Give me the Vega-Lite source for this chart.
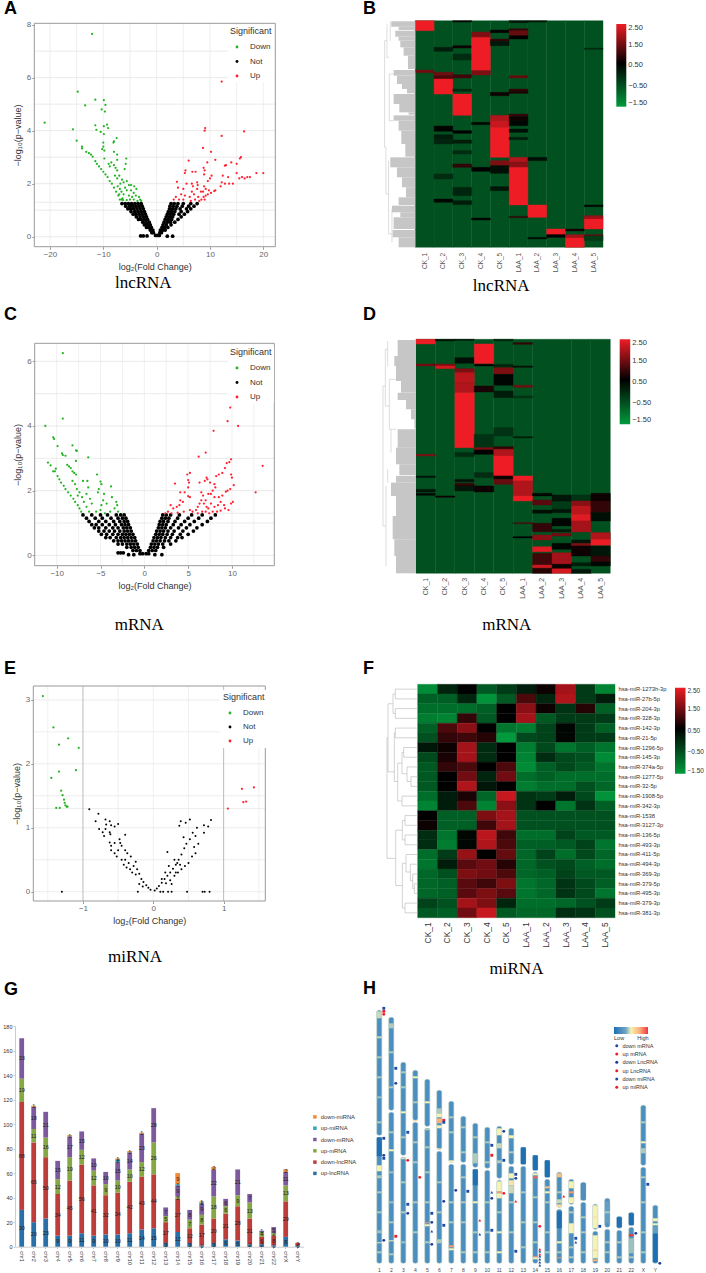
{
"$schema":"https://vega.github.io/schema/vega-lite/v6.json",
"padding":0,"background":"white",
"config":{"view":{"stroke":null},"font":"Liberation Sans","title":{"fontSize":18,"fontWeight":"bold","anchor":"start","frame":"group","color":"#000"},
 "axis":{"labelColor":"#666","tickColor":"#999","titleFontWeight":"normal","titleColor":"#333","grid":false,"domain":false}},
"columns":2,"spacing":0,"align":"each","bounds":"flush",
"concat":[
{"width":353,"height":320,"title":{"text":"A","offset":-18,"dx":4},
 "encoding":{
  "x":{"field":"x","type":"quantitative","scale":{"domain":[-22.94,22.25],"range":[34.3,275.3],"nice":false,"zero":false},"axis":{"values":[-20,-10,0,10,20],"title":"log₂(Fold Change)","offset":-73.3,"labelFontSize":8,"tickSize":2.5,"labelPadding":1,"titleFontSize":9,"titlePadding":4}},
  "y":{"field":"y","type":"quantitative","scale":{"domain":[-0.377,8.05],"range":[246.7,23.3],"nice":false,"zero":false},"axis":{"values":[0,2,4,6,8],"title":"−log₁₀(p−value)","offset":-34.3,"labelFontSize":8,"tickSize":2.5,"labelPadding":1,"titleFontSize":9,"titlePadding":4}}},
 "layer":[
  {"data":{"values":[{"x":-20,"y":-0.377,"e":8.05},{"x":-15,"y":-0.377,"e":8.05},{"x":-10,"y":-0.377,"e":8.05},{"x":-5,"y":-0.377,"e":8.05},{"x":0,"y":-0.377,"e":8.05},{"x":5,"y":-0.377,"e":8.05},{"x":10,"y":-0.377,"e":8.05},{"x":15,"y":-0.377,"e":8.05},{"x":20,"y":-0.377,"e":8.05}]},"mark":{"type":"rule","stroke":"#ececec","strokeWidth":0.8},"encoding":{"y2":{"field":"e"}}},
  {"data":{"values":[{"x":-22.94,"y":0,"e":22.25},{"x":-22.94,"y":1,"e":22.25},{"x":-22.94,"y":1.3,"e":22.25},{"x":-22.94,"y":2,"e":22.25},{"x":-22.94,"y":3,"e":22.25},{"x":-22.94,"y":4,"e":22.25},{"x":-22.94,"y":5,"e":22.25},{"x":-22.94,"y":6,"e":22.25},{"x":-22.94,"y":7,"e":22.25}]},"mark":{"type":"rule","stroke":"#e4e4e4","strokeWidth":0.8},"encoding":{"x2":{"field":"e"}}},
  {"data":{"values":[{"x":-0.2,"y":0.05},{"x":-0.6,"y":0.15},{"x":-0.9,"y":0.15},{"x":-0.7,"y":0.25},{"x":-1.2,"y":0.25},{"x":-1,"y":0.35},{"x":-1.5,"y":0.35},{"x":-1.9,"y":0.35},{"x":-1.2,"y":0.45},{"x":-1.7,"y":0.45},{"x":-2.3,"y":0.45},{"x":-1.4,"y":0.55},{"x":-2,"y":0.55},{"x":-2.6,"y":0.55},{"x":-1.7,"y":0.65},{"x":-2.3,"y":0.65},{"x":-2.9,"y":0.65},{"x":-3.4,"y":0.65},{"x":-1.9,"y":0.75},{"x":-2.5,"y":0.75},{"x":-3.1,"y":0.75},{"x":-3.8,"y":0.75},{"x":-2.1,"y":0.85},{"x":-2.7,"y":0.85},{"x":-3.3,"y":0.85},{"x":-3.9,"y":0.85},{"x":-4.4,"y":0.85},{"x":-2.3,"y":0.95},{"x":-2.9,"y":0.95},{"x":-3.5,"y":0.95},{"x":-4.1,"y":0.95},{"x":-4.8,"y":0.95},{"x":-2.5,"y":1.05},{"x":-3.1,"y":1.05},{"x":-3.7,"y":1.05},{"x":-4.3,"y":1.05},{"x":-4.9,"y":1.05},{"x":-5.4,"y":1.05},{"x":-2.7,"y":1.15},{"x":-3.3,"y":1.15},{"x":-3.9,"y":1.15},{"x":-4.5,"y":1.15},{"x":-5.1,"y":1.15},{"x":-5.8,"y":1.15},{"x":-2.9,"y":1.25},{"x":-3.5,"y":1.25},{"x":-4.1,"y":1.25},{"x":-4.7,"y":1.25},{"x":-5.3,"y":1.25},{"x":-5.9,"y":1.25},{"x":-6.5,"y":1.25},{"x":-3,"y":0.03},{"x":-2.5,"y":0.03},{"x":-1.8,"y":0.03},{"x":0.2,"y":0.05},{"x":0.5,"y":0.05},{"x":0.6,"y":0.15},{"x":0.9,"y":0.15},{"x":0.7,"y":0.25},{"x":1.2,"y":0.25},{"x":1.6,"y":0.25},{"x":1,"y":0.35},{"x":1.5,"y":0.35},{"x":2.1,"y":0.35},{"x":1.2,"y":0.45},{"x":1.8,"y":0.45},{"x":2.7,"y":0.45},{"x":1.4,"y":0.55},{"x":2,"y":0.55},{"x":2.6,"y":0.55},{"x":3.4,"y":0.55},{"x":1.6,"y":0.65},{"x":2.2,"y":0.65},{"x":2.8,"y":0.65},{"x":4,"y":0.65},{"x":1.8,"y":0.75},{"x":2.4,"y":0.75},{"x":3,"y":0.75},{"x":4.6,"y":0.75},{"x":2,"y":0.85},{"x":2.6,"y":0.85},{"x":3.2,"y":0.85},{"x":4.2,"y":0.85},{"x":5.2,"y":0.85},{"x":2.2,"y":0.95},{"x":2.8,"y":0.95},{"x":3.4,"y":0.95},{"x":4.6,"y":0.95},{"x":5.8,"y":0.95},{"x":2.4,"y":1.05},{"x":3,"y":1.05},{"x":3.6,"y":1.05},{"x":4.4,"y":1.05},{"x":5.6,"y":1.05},{"x":6.4,"y":1.05},{"x":2.5,"y":1.15},{"x":3.1,"y":1.15},{"x":3.8,"y":1.15},{"x":4.8,"y":1.15},{"x":6,"y":1.15},{"x":7,"y":1.15},{"x":2.7,"y":1.25},{"x":3.3,"y":1.25},{"x":4,"y":1.25},{"x":5,"y":1.25},{"x":6.4,"y":1.25},{"x":7.6,"y":1.25},{"x":2,"y":0.02},{"x":3,"y":0.02}]},"mark":{"type":"circle","color":"#000","size":14,"opacity":1}},
  {"data":{"values":[{"x":-12.1,"y":7.65,"s":"Down"},{"x":-14.8,"y":5.47,"s":"Down"},{"x":-11.5,"y":5.17,"s":"Down"},{"x":-9.9,"y":5.15,"s":"Down"},{"x":-13.4,"y":4.95,"s":"Down"},{"x":-9.6,"y":4.97,"s":"Down"},{"x":-10.3,"y":4.8,"s":"Down"},{"x":-9.7,"y":4.72,"s":"Down"},{"x":-21,"y":4.3,"s":"Down"},{"x":-11.5,"y":4.2,"s":"Down"},{"x":-9.9,"y":4.17,"s":"Down"},{"x":-9.3,"y":4.23,"s":"Down"},{"x":-9.1,"y":4.1,"s":"Down"},{"x":-11.3,"y":4.03,"s":"Down"},{"x":-15.7,"y":4.05,"s":"Down"},{"x":-10.5,"y":3.95,"s":"Down"},{"x":-9.9,"y":3.87,"s":"Down"},{"x":-15,"y":3.62,"s":"Down"},{"x":-8,"y":3.6,"s":"Down"},{"x":-8.1,"y":3.55,"s":"Down"},{"x":-10,"y":3.55,"s":"Down"},{"x":-10,"y":3.4,"s":"Down"},{"x":-7.5,"y":3.72,"s":"Down"},{"x":-14,"y":3.4,"s":"Down"},{"x":-14,"y":3.33,"s":"Down"},{"x":-10.2,"y":3.3,"s":"Down"},{"x":-9.8,"y":3.25,"s":"Down"},{"x":-13.2,"y":3.2,"s":"Down"},{"x":-12.7,"y":3.15,"s":"Down"},{"x":-12.3,"y":3.1,"s":"Down"},{"x":-12,"y":3.02,"s":"Down"},{"x":-8,"y":3.2,"s":"Down"},{"x":-7.4,"y":3.1,"s":"Down"},{"x":-5.7,"y":2.95,"s":"Down"},{"x":-7.4,"y":2.9,"s":"Down"},{"x":-11.5,"y":2.85,"s":"Down"},{"x":-9.8,"y":2.95,"s":"Down"},{"x":-8.5,"y":2.8,"s":"Down"},{"x":-11.2,"y":2.75,"s":"Down"},{"x":-10.8,"y":2.65,"s":"Down"},{"x":-10.4,"y":2.55,"s":"Down"},{"x":-10,"y":2.45,"s":"Down"},{"x":-9.6,"y":2.35,"s":"Down"},{"x":-9.2,"y":2.25,"s":"Down"},{"x":-8.8,"y":2.1,"s":"Down"},{"x":-8.4,"y":2,"s":"Down"},{"x":-8,"y":1.85,"s":"Down"},{"x":-7.6,"y":1.7,"s":"Down"},{"x":-7.2,"y":1.55,"s":"Down"},{"x":-6.9,"y":1.4,"s":"Down"},{"x":-9,"y":2.75,"s":"Down"},{"x":-8.8,"y":2.65,"s":"Down"},{"x":-8,"y":2.7,"s":"Down"},{"x":-7.7,"y":2.6,"s":"Down"},{"x":-7.4,"y":2.5,"s":"Down"},{"x":-5.8,"y":2.75,"s":"Down"},{"x":-6,"y":2.55,"s":"Down"},{"x":-7.8,"y":2.3,"s":"Down"},{"x":-7.4,"y":2.2,"s":"Down"},{"x":-7,"y":2.3,"s":"Down"},{"x":-6.8,"y":2,"s":"Down"},{"x":-6.5,"y":2.15,"s":"Down"},{"x":-6.2,"y":2.05,"s":"Down"},{"x":-5.6,"y":2.1,"s":"Down"},{"x":-5.2,"y":1.95,"s":"Down"},{"x":-4.8,"y":1.95,"s":"Down"},{"x":-4.2,"y":1.9,"s":"Down"},{"x":-6.6,"y":1.7,"s":"Down"},{"x":-6.2,"y":1.6,"s":"Down"},{"x":-5.9,"y":1.85,"s":"Down"},{"x":-5.6,"y":1.75,"s":"Down"},{"x":-5.2,"y":1.55,"s":"Down"},{"x":-4.8,"y":1.75,"s":"Down"},{"x":-4.3,"y":1.65,"s":"Down"},{"x":-3.9,"y":1.55,"s":"Down"},{"x":-3.3,"y":1.5,"s":"Down"},{"x":-3.1,"y":1.4,"s":"Down"},{"x":-3.6,"y":1.35,"s":"Down"},{"x":-4.3,"y":1.4,"s":"Down"},{"x":-5,"y":1.4,"s":"Down"},{"x":-5.6,"y":1.38,"s":"Down"},{"x":-6.3,"y":1.38,"s":"Down"},{"x":-7,"y":1.6,"s":"Down"},{"x":-6.6,"y":1.4,"s":"Down"},{"x":-7.3,"y":1.9,"s":"Down"},{"x":-6.9,"y":1.8,"s":"Down"},{"x":-6.4,"y":1.45,"s":"Down"},{"x":-2.9,"y":1.35,"s":"Down"},{"x":-3.8,"y":1.8,"s":"Down"},{"x":-4.6,"y":1.5,"s":"Down"},{"x":12.2,"y":5.85,"s":"Up"},{"x":9.1,"y":4.1,"s":"Up"},{"x":9,"y":4,"s":"Up"},{"x":16.4,"y":3.97,"s":"Up"},{"x":12.2,"y":3.8,"s":"Up"},{"x":8.7,"y":3.35,"s":"Up"},{"x":10.2,"y":3.2,"s":"Up"},{"x":6,"y":2.87,"s":"Up"},{"x":11,"y":2.9,"s":"Up"},{"x":9.5,"y":2.8,"s":"Up"},{"x":13,"y":2.7,"s":"Up"},{"x":12.8,"y":2.68,"s":"Up"},{"x":14,"y":2.8,"s":"Up"},{"x":15,"y":2.75,"s":"Up"},{"x":15.8,"y":3,"s":"Up"},{"x":15.6,"y":2.95,"s":"Up"},{"x":5.4,"y":2.5,"s":"Up"},{"x":5.3,"y":2.4,"s":"Up"},{"x":6.7,"y":2.45,"s":"Up"},{"x":7.3,"y":2.45,"s":"Up"},{"x":8.8,"y":2.6,"s":"Up"},{"x":9,"y":2.5,"s":"Up"},{"x":8.9,"y":2.35,"s":"Up"},{"x":10.3,"y":2.3,"s":"Up"},{"x":10,"y":2.2,"s":"Up"},{"x":12.4,"y":2.3,"s":"Up"},{"x":13.4,"y":2.25,"s":"Up"},{"x":15,"y":2.4,"s":"Up"},{"x":15.5,"y":2.2,"s":"Up"},{"x":16,"y":2.25,"s":"Up"},{"x":16.5,"y":2.2,"s":"Up"},{"x":17,"y":2.25,"s":"Up"},{"x":17.5,"y":2.25,"s":"Up"},{"x":18.7,"y":2.4,"s":"Up"},{"x":20,"y":2.4,"s":"Up"},{"x":12.8,"y":2,"s":"Up"},{"x":13.6,"y":2,"s":"Up"},{"x":14.3,"y":2,"s":"Up"},{"x":12.2,"y":2.05,"s":"Up"},{"x":12,"y":1.9,"s":"Up"},{"x":3.8,"y":2.07,"s":"Up"},{"x":5.6,"y":2,"s":"Up"},{"x":6.6,"y":2,"s":"Up"},{"x":7.6,"y":2.05,"s":"Up"},{"x":7.7,"y":1.95,"s":"Up"},{"x":4,"y":1.85,"s":"Up"},{"x":4.6,"y":1.6,"s":"Up"},{"x":5,"y":1.8,"s":"Up"},{"x":6.8,"y":1.9,"s":"Up"},{"x":7.6,"y":1.8,"s":"Up"},{"x":8.9,"y":1.9,"s":"Up"},{"x":9.2,"y":1.8,"s":"Up"},{"x":9.6,"y":2.1,"s":"Up"},{"x":8.3,"y":1.7,"s":"Up"},{"x":8.7,"y":1.7,"s":"Up"},{"x":7,"y":1.6,"s":"Up"},{"x":6.2,"y":1.5,"s":"Up"},{"x":5.3,"y":1.55,"s":"Up"},{"x":3.6,"y":1.5,"s":"Up"},{"x":3.2,"y":1.4,"s":"Up"},{"x":4.2,"y":1.4,"s":"Up"},{"x":5,"y":1.4,"s":"Up"},{"x":6.4,"y":1.35,"s":"Up"},{"x":7.2,"y":1.4,"s":"Up"},{"x":8,"y":1.35,"s":"Up"},{"x":8.4,"y":1.4,"s":"Up"},{"x":8.8,"y":1.5,"s":"Up"},{"x":9.2,"y":1.55,"s":"Up"},{"x":9.6,"y":1.6,"s":"Up"},{"x":10.2,"y":1.65,"s":"Up"},{"x":10.8,"y":1.72,"s":"Up"},{"x":9,"y":1.4,"s":"Up"},{"x":7.8,"y":1.5,"s":"Up"},{"x":6.6,"y":1.7,"s":"Up"},{"x":11,"y":1.75,"s":"Up"},{"x":9.8,"y":1.75,"s":"Up"}]},"mark":{"type":"circle","size":5,"opacity":1},"encoding":{"color":{"field":"s","type":"nominal","scale":{"domain":["Down","Not","Up"],"range":["#22b422","#000000","#ff2030"]},"legend":{"orient":"none","legendX":228,"legendY":25,"title":"Significant","padding":2,"fillColor":"white","titleFontSize":9,"titleFontWeight":"normal","titleColor":"#333","labelFontSize":8,"labelColor":"#333","symbolSize":8,"symbolOffset":3,"labelOffset":9,"rowPadding":6.5,"titlePadding":7}}}},
  {"data":{"values":[{"x":-22.94,"y":-0.377,"e":22.25,"f":8.05}]},"mark":{"type":"rect","fill":null,"stroke":"#999","strokeWidth":1},"encoding":{"x2":{"field":"e"},"y2":{"field":"f"}}},
  {"data":{"values":[{"x":-2.5,"y":-1.76,"label":"lncRNA"}]},"mark":{"type":"text","font":"Liberation Serif","fontSize":17,"color":"#000"},"encoding":{"text":{"field":"label"}}}
 ]},
{"width":353,"height":320,"title":{"text":"B","offset":-18,"dx":10},
 "resolve":{"scale":{"x":"independent"}},
 "layer":[
  {"data":{"values":[{"s":"CK_1","t":0,"b":680,"v":-0.5},{"s":"CK_2","t":0,"b":680,"v":-0.5},{"s":"CK_3","t":0,"b":680,"v":-0.5},{"s":"CK_4","t":0,"b":680,"v":-0.5},{"s":"CK_5","t":0,"b":680,"v":-0.5},{"s":"LAA_1","t":0,"b":680,"v":-0.5},{"s":"LAA_2","t":0,"b":680,"v":-0.5},{"s":"LAA_3","t":0,"b":680,"v":-0.5},{"s":"LAA_4","t":0,"b":680,"v":-0.5},{"s":"LAA_5","t":0,"b":680,"v":-0.5},
{"s":"CK_1","t":0,"b":30,"v":2.5},{"s":"CK_1","t":148,"b":156,"v":1.5},
{"s":"CK_2","t":80,"b":92,"v":0.2},{"s":"CK_2","t":155,"b":165,"v":1.5},{"s":"CK_2","t":165,"b":175,"v":1.2},{"s":"CK_2","t":175,"b":220,"v":2.5},{"s":"CK_2","t":316,"b":332,"v":0.55},{"s":"CK_2","t":342,"b":355,"v":0.2},{"s":"CK_2","t":355,"b":370,"v":0.1},{"s":"CK_2","t":460,"b":475,"v":0},{"s":"CK_2","t":535,"b":545,"v":0.5},
{"s":"CK_3","t":0,"b":4,"v":0.5},{"s":"CK_3","t":75,"b":82,"v":0.7},{"s":"CK_3","t":100,"b":118,"v":0},{"s":"CK_3","t":162,"b":172,"v":1.1},{"s":"CK_3","t":205,"b":212,"v":0},{"s":"CK_3","t":220,"b":284,"v":2.5},{"s":"CK_3","t":330,"b":338,"v":0.6},{"s":"CK_3","t":358,"b":368,"v":0.2},{"s":"CK_3","t":390,"b":400,"v":0},{"s":"CK_3","t":430,"b":440,"v":1},{"s":"CK_3","t":500,"b":525,"v":0.1},{"s":"CK_3","t":540,"b":552,"v":0.2},
{"s":"CK_4","t":34,"b":50,"v":1.6},{"s":"CK_4","t":50,"b":150,"v":2.5},{"s":"CK_4","t":150,"b":163,"v":1.6},{"s":"CK_4","t":305,"b":312,"v":0.5},{"s":"CK_4","t":440,"b":452,"v":0.6},{"s":"CK_4","t":592,"b":598,"v":0.5},
{"s":"CK_5","t":28,"b":36,"v":0.6},{"s":"CK_5","t":55,"b":62,"v":1},{"s":"CK_5","t":62,"b":75,"v":0.3},{"s":"CK_5","t":215,"b":225,"v":0.7},{"s":"CK_5","t":284,"b":300,"v":2},{"s":"CK_5","t":300,"b":320,"v":2.2},{"s":"CK_5","t":320,"b":410,"v":2.5},{"s":"CK_5","t":420,"b":435,"v":1.6},{"s":"CK_5","t":435,"b":458,"v":0.4},{"s":"CK_5","t":498,"b":510,"v":0.3},
{"s":"LAA_1","t":0,"b":6,"v":0.3},{"s":"LAA_1","t":24,"b":30,"v":1},{"s":"LAA_1","t":30,"b":45,"v":1.4},{"s":"LAA_1","t":45,"b":55,"v":0.6},{"s":"LAA_1","t":165,"b":172,"v":1.4},{"s":"LAA_1","t":205,"b":212,"v":1},{"s":"LAA_1","t":212,"b":218,"v":0.8},{"s":"LAA_1","t":280,"b":288,"v":1},{"s":"LAA_1","t":288,"b":300,"v":0.7},{"s":"LAA_1","t":300,"b":315,"v":0.5},{"s":"LAA_1","t":325,"b":335,"v":0.4},{"s":"LAA_1","t":350,"b":357,"v":0.2},{"s":"LAA_1","t":410,"b":425,"v":2},{"s":"LAA_1","t":425,"b":440,"v":1.7},{"s":"LAA_1","t":440,"b":553,"v":2.5},{"s":"LAA_1","t":587,"b":591,"v":1},
{"s":"LAA_2","t":0,"b":4,"v":0.3},{"s":"LAA_2","t":410,"b":420,"v":0.4},{"s":"LAA_2","t":553,"b":590,"v":2.5},{"s":"LAA_2","t":650,"b":655,"v":0.4},
{"s":"LAA_3","t":625,"b":642,"v":2.5},{"s":"LAA_3","t":642,"b":650,"v":0.6},
{"s":"LAA_4","t":625,"b":631,"v":0.7},{"s":"LAA_4","t":642,"b":652,"v":1.9},{"s":"LAA_4","t":652,"b":680,"v":2.5},
{"s":"LAA_5","t":82,"b":86,"v":0},{"s":"LAA_5","t":553,"b":558,"v":0.5},{"s":"LAA_5","t":585,"b":595,"v":1.8},{"s":"LAA_5","t":595,"b":625,"v":2.5},{"s":"LAA_5","t":642,"b":646,"v":1.4},{"s":"LAA_5","t":646,"b":660,"v":-0.2}]},
   "mark":{"type":"rect","strokeWidth":0.4},
   "encoding":{
    "x":{"field":"s","type":"nominal","scale":{"domain":["CK_1","CK_2","CK_3","CK_4","CK_5","LAA_1","LAA_2","LAA_3","LAA_4","LAA_5"],"range":[62.3,250],"paddingInner":0,"paddingOuter":0},"axis":{"labelAngle":-90,"offset":-72.7,"ticks":false,"labelFontSize":6.5,"labelColor":"#555","labelPadding":5,"title":"lncRNA","titleFont":"Liberation Serif","titleFontSize":17,"titleColor":"#000","titleX":147.7,"titleY":30.4}},
    "y":{"field":"t","type":"quantitative","scale":{"domain":[0,680],"range":[20.7,247.3],"nice":false,"zero":false},"axis":null},
    "y2":{"field":"b"},
    "stroke":{"field":"v","type":"quantitative","scale":{"domain":[-1.5,0.6,2.5],"range":["#009a3c","#000000","#ee1c25"],"interpolate":"rgb"},"legend":null},
    "color":{"field":"v","type":"quantitative","scale":{"domain":[-1.5,0.6,2.5],"range":["#009a3c","#000000","#ee1c25"],"interpolate":"rgb"},"legend":{"orient":"none","legendX":263.3,"legendY":24,"title":null,"gradientLength":82.7,"gradientThickness":10,"values":[-1.5,-0.5,0.5,1.5,2.5],"format":".2f","labelFontSize":7.5,"labelColor":"#333"}}}},
  {"data":{"values":[{"d":0,"e":72,"t":2,"b":18},{"d":0,"e":50,"t":18,"b":28},{"d":0,"e":60,"t":30,"b":48},{"d":0,"e":50,"t":48,"b":60},{"d":0,"e":45,"t":60,"b":80},{"d":0,"e":35,"t":80,"b":105},{"d":0,"e":22,"t":105,"b":145},{"d":0,"e":65,"t":148,"b":165},{"d":0,"e":55,"t":165,"b":190},{"d":0,"e":40,"t":190,"b":205},{"d":0,"e":25,"t":205,"b":218},{"d":0,"e":65,"t":220,"b":250},{"d":0,"e":48,"t":250,"b":275},{"d":0,"e":20,"t":275,"b":282},{"d":0,"e":65,"t":284,"b":300},{"d":0,"e":50,"t":300,"b":330},{"d":0,"e":42,"t":330,"b":370},{"d":0,"e":30,"t":370,"b":408},{"d":0,"e":75,"t":410,"b":440},{"d":0,"e":55,"t":440,"b":470},{"d":0,"e":40,"t":470,"b":500},{"d":0,"e":28,"t":500,"b":530},{"d":0,"e":50,"t":530,"b":553},{"d":0,"e":70,"t":555,"b":575},{"d":0,"e":45,"t":575,"b":590},{"d":0,"e":65,"t":590,"b":625},{"d":0,"e":68,"t":628,"b":650},{"d":0,"e":50,"t":650,"b":680}]},"mark":{"type":"rect","fill":"#c6c6c6"},"encoding":{"x":{"field":"d","type":"quantitative","scale":{"domain":[0,92],"range":[62.3,31.6]},"axis":null},"x2":{"field":"e"},"y":{"field":"t","type":"quantitative"},"y2":{"field":"b"}}},
  {"data":{"values":[{"d":92,"e":92,"t":60,"b":380},{"d":85,"e":85,"t":10,"b":110},{"d":85,"e":92,"t":60,"b":60},{"d":80,"e":80,"t":420,"b":640},{"d":88,"e":88,"t":380,"b":520},{"d":92,"e":88,"t":380,"b":380},{"d":88,"e":80,"t":520,"b":520},{"d":78,"e":78,"t":160,"b":300},{"d":85,"e":78,"t":110,"b":110},{"d":75,"e":75,"t":2,"b":60},{"d":80,"e":70,"t":640,"b":640},{"d":70,"e":70,"t":565,"b":665},{"d":78,"e":65,"t":160,"b":160},{"d":78,"e":65,"t":300,"b":300}]},"mark":{"type":"rule","stroke":"#c6c6c6","strokeWidth":0.6},"encoding":{"x":{"field":"d","type":"quantitative","scale":{"domain":[0,92],"range":[62.3,31.6]},"axis":null},"x2":{"field":"e"},"y":{"field":"t","type":"quantitative"},"y2":{"field":"b"}}}
 ]},
{"width":353,"height":330,"title":{"text":"C","offset":-4,"dx":4},
 "encoding":{
  "x":{"field":"x","type":"quantitative","scale":{"domain":[-12.51,14.83],"range":[34.7,274.3],"nice":false,"zero":false},"axis":{"values":[-10,-5,0,5,10],"title":"log₂(Fold Change)","offset":-84.3,"labelFontSize":8,"tickSize":2.5,"labelPadding":1,"titleFontSize":9,"titlePadding":4}},
  "y":{"field":"y","type":"quantitative","scale":{"domain":[-0.32,6.557],"range":[245.7,23.3],"nice":false,"zero":false},"axis":{"values":[0,2,4,6],"title":"−log₁₀(p−value)","offset":-34.7,"labelFontSize":8,"tickSize":2.5,"labelPadding":1,"titleFontSize":9,"titlePadding":4}}},
 "layer":[
  {"data":{"values":[{"x":-10,"y":-0.32,"e":6.557},{"x":-7.5,"y":-0.32,"e":6.557},{"x":-5,"y":-0.32,"e":6.557},{"x":-2.5,"y":-0.32,"e":6.557},{"x":0,"y":-0.32,"e":6.557},{"x":2.5,"y":-0.32,"e":6.557},{"x":5,"y":-0.32,"e":6.557},{"x":7.5,"y":-0.32,"e":6.557},{"x":10,"y":-0.32,"e":6.557},{"x":12.5,"y":-0.32,"e":6.557}]},"mark":{"type":"rule","stroke":"#ececec","strokeWidth":0.8},"encoding":{"y2":{"field":"e"}}},
  {"data":{"values":[{"x":-12.51,"y":0,"e":14.83},{"x":-12.51,"y":1,"e":14.83},{"x":-12.51,"y":1.3,"e":14.83},{"x":-12.51,"y":2,"e":14.83},{"x":-12.51,"y":3,"e":14.83},{"x":-12.51,"y":4,"e":14.83},{"x":-12.51,"y":5,"e":14.83},{"x":-12.51,"y":6,"e":14.83}]},"mark":{"type":"rule","stroke":"#e4e4e4","strokeWidth":0.8},"encoding":{"x2":{"field":"e"}}},
  {"data":{"values":[{"x":-0.2,"y":0.05},{"x":-0.5,"y":0.05},{"x":-0.5,"y":0.15},{"x":-0.9,"y":0.15},{"x":-1.3,"y":0.15},{"x":-0.7,"y":0.25},{"x":-1.1,"y":0.25},{"x":-1.5,"y":0.25},{"x":-2,"y":0.25},{"x":-0.8,"y":0.35},{"x":-1.2,"y":0.35},{"x":-1.6,"y":0.35},{"x":-2,"y":0.35},{"x":-2.5,"y":0.35},{"x":-3,"y":0.35},{"x":-1,"y":0.45},{"x":-1.4,"y":0.45},{"x":-1.8,"y":0.45},{"x":-2.2,"y":0.45},{"x":-2.6,"y":0.45},{"x":-3,"y":0.45},{"x":-3.5,"y":0.45},{"x":-1.1,"y":0.55},{"x":-1.5,"y":0.55},{"x":-1.9,"y":0.55},{"x":-2.3,"y":0.55},{"x":-2.7,"y":0.55},{"x":-3.2,"y":0.55},{"x":-3.9,"y":0.55},{"x":-4.4,"y":0.55},{"x":-1.3,"y":0.65},{"x":-1.7,"y":0.65},{"x":-2.1,"y":0.65},{"x":-2.5,"y":0.65},{"x":-3,"y":0.65},{"x":-3.6,"y":0.65},{"x":-4.3,"y":0.65},{"x":-4.9,"y":0.65},{"x":-1.5,"y":0.75},{"x":-1.9,"y":0.75},{"x":-2.3,"y":0.75},{"x":-2.8,"y":0.75},{"x":-3.4,"y":0.75},{"x":-4,"y":0.75},{"x":-4.6,"y":0.75},{"x":-5.2,"y":0.75},{"x":-1.6,"y":0.85},{"x":-2,"y":0.85},{"x":-2.4,"y":0.85},{"x":-3,"y":0.85},{"x":-3.6,"y":0.85},{"x":-4.4,"y":0.85},{"x":-5.2,"y":0.85},{"x":-5.7,"y":0.85},{"x":-1.8,"y":0.95},{"x":-2.2,"y":0.95},{"x":-2.6,"y":0.95},{"x":-3.3,"y":0.95},{"x":-4,"y":0.95},{"x":-4.8,"y":0.95},{"x":-5.5,"y":0.95},{"x":-6,"y":0.95},{"x":-1.9,"y":1.05},{"x":-2.3,"y":1.05},{"x":-2.8,"y":1.05},{"x":-3.5,"y":1.05},{"x":-4.4,"y":1.05},{"x":-5.2,"y":1.05},{"x":-6.3,"y":1.05},{"x":-2.1,"y":1.15},{"x":-2.5,"y":1.15},{"x":-3,"y":1.15},{"x":-3.8,"y":1.15},{"x":-4.8,"y":1.15},{"x":-5.6,"y":1.15},{"x":-6.6,"y":1.15},{"x":-2.3,"y":1.25},{"x":-2.7,"y":1.25},{"x":-3.2,"y":1.25},{"x":-4.2,"y":1.25},{"x":-5,"y":1.25},{"x":-6,"y":1.25},{"x":-7,"y":1.25},{"x":-3,"y":0.08},{"x":-2.7,"y":0.08},{"x":-2.4,"y":0.08},{"x":-1.8,"y":0.02},{"x":-1.2,"y":0.02},{"x":1.2,"y":0.02},{"x":2,"y":0.02},{"x":0.2,"y":0.05},{"x":0.5,"y":0.05},{"x":0.5,"y":0.15},{"x":0.9,"y":0.15},{"x":1.3,"y":0.15},{"x":0.7,"y":0.25},{"x":1.1,"y":0.25},{"x":1.5,"y":0.25},{"x":2.2,"y":0.25},{"x":0.8,"y":0.35},{"x":1.2,"y":0.35},{"x":1.6,"y":0.35},{"x":2.1,"y":0.35},{"x":3,"y":0.35},{"x":1,"y":0.45},{"x":1.4,"y":0.45},{"x":1.8,"y":0.45},{"x":2.3,"y":0.45},{"x":2.8,"y":0.45},{"x":3.6,"y":0.45},{"x":1.1,"y":0.55},{"x":1.5,"y":0.55},{"x":1.9,"y":0.55},{"x":2.4,"y":0.55},{"x":3,"y":0.55},{"x":3.8,"y":0.55},{"x":4.3,"y":0.55},{"x":1.3,"y":0.65},{"x":1.7,"y":0.65},{"x":2.1,"y":0.65},{"x":2.6,"y":0.65},{"x":3.2,"y":0.65},{"x":4.1,"y":0.65},{"x":5,"y":0.65},{"x":1.4,"y":0.75},{"x":1.8,"y":0.75},{"x":2.2,"y":0.75},{"x":2.7,"y":0.75},{"x":3.4,"y":0.75},{"x":4.4,"y":0.75},{"x":5.6,"y":0.75},{"x":1.6,"y":0.85},{"x":2,"y":0.85},{"x":2.4,"y":0.85},{"x":3,"y":0.85},{"x":3.9,"y":0.85},{"x":4.8,"y":0.85},{"x":6,"y":0.85},{"x":1.7,"y":0.95},{"x":2.1,"y":0.95},{"x":2.5,"y":0.95},{"x":3.3,"y":0.95},{"x":4.2,"y":0.95},{"x":5.2,"y":0.95},{"x":6.6,"y":0.95},{"x":1.8,"y":1.05},{"x":2.2,"y":1.05},{"x":2.7,"y":1.05},{"x":3.5,"y":1.05},{"x":4.6,"y":1.05},{"x":5.7,"y":1.05},{"x":7.2,"y":1.05},{"x":2,"y":1.15},{"x":2.4,"y":1.15},{"x":2.8,"y":1.15},{"x":3.8,"y":1.15},{"x":5,"y":1.15},{"x":6.2,"y":1.15},{"x":7.6,"y":1.15},{"x":2.1,"y":1.25},{"x":2.5,"y":1.25},{"x":3,"y":1.25},{"x":4,"y":1.25},{"x":5.4,"y":1.25},{"x":6.6,"y":1.25},{"x":8.1,"y":1.25}]},"mark":{"type":"circle","color":"#000","size":14,"opacity":1}},
  {"data":{"values":[{"x":-9.3,"y":6.25,"s":"Down"},{"x":-9.3,"y":4.23,"s":"Down"},{"x":-11.3,"y":4,"s":"Down"},{"x":-10.4,"y":3.65,"s":"Down"},{"x":-10.3,"y":3.6,"s":"Down"},{"x":-9.9,"y":3.38,"s":"Down"},{"x":-8.2,"y":3.4,"s":"Down"},{"x":-7.8,"y":3.25,"s":"Down"},{"x":-7.7,"y":3.23,"s":"Down"},{"x":-9.4,"y":3.15,"s":"Down"},{"x":-9.3,"y":3.1,"s":"Down"},{"x":-9,"y":3.08,"s":"Down"},{"x":-6.4,"y":3.03,"s":"Down"},{"x":-7.8,"y":2.92,"s":"Down"},{"x":-11,"y":2.87,"s":"Down"},{"x":-10.7,"y":2.78,"s":"Down"},{"x":-10.4,"y":2.6,"s":"Down"},{"x":-10.2,"y":2.6,"s":"Down"},{"x":-10.1,"y":2.68,"s":"Down"},{"x":-8.8,"y":2.8,"s":"Down"},{"x":-8.6,"y":2.75,"s":"Down"},{"x":-8.4,"y":2.7,"s":"Down"},{"x":-8.2,"y":2.6,"s":"Down"},{"x":-8,"y":2.55,"s":"Down"},{"x":-7.8,"y":2.5,"s":"Down"},{"x":-5.4,"y":2.5,"s":"Down"},{"x":-9.9,"y":2.45,"s":"Down"},{"x":-9.7,"y":2.35,"s":"Down"},{"x":-9.5,"y":2.25,"s":"Down"},{"x":-9.2,"y":2.15,"s":"Down"},{"x":-9,"y":2.05,"s":"Down"},{"x":-8.7,"y":1.95,"s":"Down"},{"x":-8.4,"y":1.85,"s":"Down"},{"x":-8.1,"y":1.75,"s":"Down"},{"x":-7.9,"y":1.65,"s":"Down"},{"x":-7.6,"y":1.55,"s":"Down"},{"x":-7.4,"y":1.45,"s":"Down"},{"x":-7.2,"y":1.35,"s":"Down"},{"x":-8.2,"y":2.3,"s":"Down"},{"x":-7.9,"y":2.2,"s":"Down"},{"x":-7.7,"y":2.05,"s":"Down"},{"x":-7.4,"y":1.95,"s":"Down"},{"x":-7.1,"y":1.8,"s":"Down"},{"x":-6.9,"y":1.65,"s":"Down"},{"x":-6.6,"y":1.5,"s":"Down"},{"x":-6.3,"y":1.35,"s":"Down"},{"x":-7,"y":2.3,"s":"Down"},{"x":-6.5,"y":2.3,"s":"Down"},{"x":-6.4,"y":2.1,"s":"Down"},{"x":-6.6,"y":1.9,"s":"Down"},{"x":-6.2,"y":1.75,"s":"Down"},{"x":-6,"y":1.6,"s":"Down"},{"x":-5.5,"y":1.35,"s":"Down"},{"x":-5,"y":2.28,"s":"Down"},{"x":-4.9,"y":2.2,"s":"Down"},{"x":-5.2,"y":2.05,"s":"Down"},{"x":-5.3,"y":1.95,"s":"Down"},{"x":-4.7,"y":1.7,"s":"Down"},{"x":-4.9,"y":1.55,"s":"Down"},{"x":-5,"y":1.4,"s":"Down"},{"x":-4.5,"y":1.3,"s":"Down"},{"x":-4.6,"y":1.9,"s":"Down"},{"x":-3.8,"y":2.13,"s":"Down"},{"x":-3.7,"y":1.8,"s":"Down"},{"x":-3.2,"y":1.65,"s":"Down"},{"x":-3.1,"y":1.55,"s":"Down"},{"x":-3.4,"y":1.45,"s":"Down"},{"x":-3.9,"y":1.35,"s":"Down"},{"x":-3,"y":1.35,"s":"Down"},{"x":-4.3,"y":1.6,"s":"Down"},{"x":-7.6,"y":1.85,"s":"Down"},{"x":9.8,"y":4.57,"s":"Up"},{"x":9.5,"y":4.15,"s":"Up"},{"x":10.7,"y":4,"s":"Up"},{"x":7.9,"y":3.85,"s":"Up"},{"x":13.5,"y":2.77,"s":"Up"},{"x":7,"y":3.18,"s":"Up"},{"x":6.2,"y":3.05,"s":"Up"},{"x":9.9,"y":2.97,"s":"Up"},{"x":9.7,"y":2.88,"s":"Up"},{"x":9.4,"y":2.85,"s":"Up"},{"x":9.2,"y":2.7,"s":"Up"},{"x":10,"y":2.4,"s":"Up"},{"x":9.9,"y":2.5,"s":"Up"},{"x":8.5,"y":2.5,"s":"Up"},{"x":8.9,"y":2.55,"s":"Up"},{"x":8.2,"y":2.45,"s":"Up"},{"x":5.2,"y":2.55,"s":"Up"},{"x":4.9,"y":2.5,"s":"Up"},{"x":5,"y":2.33,"s":"Up"},{"x":5.1,"y":2.25,"s":"Up"},{"x":3.5,"y":2.22,"s":"Up"},{"x":5,"y":2.1,"s":"Up"},{"x":6.3,"y":2.25,"s":"Up"},{"x":7.1,"y":2.4,"s":"Up"},{"x":7.2,"y":2.35,"s":"Up"},{"x":7.5,"y":2.25,"s":"Up"},{"x":6.9,"y":2.3,"s":"Up"},{"x":8,"y":2.2,"s":"Up"},{"x":8.1,"y":2.1,"s":"Up"},{"x":10.2,"y":2.17,"s":"Up"},{"x":9.8,"y":2.05,"s":"Up"},{"x":12.7,"y":1.95,"s":"Up"},{"x":9.3,"y":1.97,"s":"Up"},{"x":9.5,"y":2,"s":"Up"},{"x":4.1,"y":1.95,"s":"Up"},{"x":4.6,"y":1.95,"s":"Up"},{"x":5,"y":1.83,"s":"Up"},{"x":5.2,"y":1.8,"s":"Up"},{"x":6.5,"y":1.95,"s":"Up"},{"x":6.7,"y":1.85,"s":"Up"},{"x":7.3,"y":1.9,"s":"Up"},{"x":7.6,"y":1.9,"s":"Up"},{"x":7.8,"y":2,"s":"Up"},{"x":8,"y":1.8,"s":"Up"},{"x":8.5,"y":1.8,"s":"Up"},{"x":8.9,"y":1.85,"s":"Up"},{"x":10.1,"y":1.65,"s":"Up"},{"x":9.9,"y":1.6,"s":"Up"},{"x":9.1,"y":1.55,"s":"Up"},{"x":8.7,"y":1.65,"s":"Up"},{"x":8.4,"y":1.55,"s":"Up"},{"x":8,"y":1.5,"s":"Up"},{"x":3,"y":1.55,"s":"Up"},{"x":3.3,"y":1.45,"s":"Up"},{"x":3.7,"y":1.5,"s":"Up"},{"x":4.1,"y":1.7,"s":"Up"},{"x":4.4,"y":1.65,"s":"Up"},{"x":4,"y":1.55,"s":"Up"},{"x":4.5,"y":1.35,"s":"Up"},{"x":5.5,"y":1.35,"s":"Up"},{"x":5.9,"y":1.4,"s":"Up"},{"x":6.1,"y":1.5,"s":"Up"},{"x":6.3,"y":1.6,"s":"Up"},{"x":6.5,"y":1.7,"s":"Up"},{"x":6.8,"y":1.6,"s":"Up"},{"x":7,"y":1.7,"s":"Up"},{"x":6.6,"y":1.35,"s":"Up"},{"x":7.1,"y":1.5,"s":"Up"},{"x":7.3,"y":1.45,"s":"Up"},{"x":7.6,"y":1.6,"s":"Up"},{"x":7.4,"y":1.3,"s":"Up"},{"x":9.6,"y":1.4,"s":"Up"},{"x":9.2,"y":1.45,"s":"Up"},{"x":8.7,"y":1.38,"s":"Up"},{"x":8.3,"y":1.35,"s":"Up"},{"x":2.4,"y":1.3,"s":"Up"},{"x":2.7,"y":1.35,"s":"Up"},{"x":3.1,"y":1.3,"s":"Up"},{"x":3.8,"y":1.32,"s":"Up"},{"x":5.2,"y":1.4,"s":"Up"},{"x":6.1,"y":1.3,"s":"Up"},{"x":7,"y":1.35,"s":"Up"},{"x":7.8,"y":1.35,"s":"Up"}]},"mark":{"type":"circle","size":5,"opacity":1},"encoding":{"color":{"field":"s","type":"nominal","scale":{"domain":["Down","Not","Up"],"range":["#22b422","#000000","#ff2030"]},"legend":{"orient":"none","legendX":228,"legendY":26,"title":"Significant","padding":2,"fillColor":"white","titleFontSize":9,"titleFontWeight":"normal","titleColor":"#333","labelFontSize":8,"labelColor":"#333","symbolSize":8,"symbolOffset":3,"labelOffset":9,"rowPadding":6.5,"titlePadding":7}}}},
  {"data":{"values":[{"x":-12.51,"y":-0.32,"e":14.83,"f":6.557}]},"mark":{"type":"rect","fill":null,"stroke":"#999","strokeWidth":1},"encoding":{"x2":{"field":"e"},"y2":{"field":"f"}}},
  {"data":{"values":[{"x":-0.57,"y":-2.155,"label":"mRNA"}]},"mark":{"type":"text","font":"Liberation Serif","fontSize":17,"color":"#000"},"encoding":{"text":{"field":"label"}}}
 ]},
{"width":353,"height":330,"title":{"text":"D","offset":-4,"dx":10},
 "resolve":{"scale":{"x":"independent"}},
 "layer":[
  {"data":{"values":[{"s":"CK_1","t":0,"b":702,"v":-0.5},{"s":"CK_2","t":0,"b":702,"v":-0.5},{"s":"CK_3","t":0,"b":702,"v":-0.5},{"s":"CK_4","t":0,"b":702,"v":-0.5},{"s":"CK_5","t":0,"b":702,"v":-0.5},{"s":"LAA_1","t":0,"b":702,"v":-0.5},{"s":"LAA_2","t":0,"b":702,"v":-0.5},{"s":"LAA_3","t":0,"b":702,"v":-0.5},{"s":"LAA_4","t":0,"b":702,"v":-0.5},{"s":"LAA_5","t":0,"b":702,"v":-0.5},
{"s":"CK_1","t":0,"b":14,"v":2.5},{"s":"CK_1","t":74,"b":80,"v":1.5},{"s":"CK_1","t":345,"b":350,"v":1.6},{"s":"CK_1","t":410,"b":415,"v":0.3},{"s":"CK_1","t":450,"b":458,"v":0.3},{"s":"CK_1","t":462,"b":468,"v":0.5},
{"s":"CK_2","t":0,"b":5,"v":0.4},{"s":"CK_2","t":74,"b":80,"v":1.6},{"s":"CK_2","t":80,"b":88,"v":2.3},{"s":"CK_2","t":470,"b":474,"v":0.7},
{"s":"CK_3","t":0,"b":3,"v":0.4},{"s":"CK_3","t":55,"b":72,"v":0.4},{"s":"CK_3","t":88,"b":100,"v":1.6},{"s":"CK_3","t":100,"b":130,"v":2.1},{"s":"CK_3","t":130,"b":160,"v":2},{"s":"CK_3","t":160,"b":325,"v":2.5},{"s":"CK_3","t":340,"b":352,"v":0},{"s":"CK_3","t":420,"b":428,"v":0.3},{"s":"CK_3","t":432,"b":440,"v":1},{"s":"CK_3","t":440,"b":455,"v":0.3},
{"s":"CK_4","t":14,"b":73,"v":2.5},{"s":"CK_4","t":75,"b":80,"v":0.6},{"s":"CK_4","t":140,"b":158,"v":0.8},{"s":"CK_4","t":285,"b":325,"v":-0.1},{"s":"CK_4","t":325,"b":332,"v":1.6},{"s":"CK_4","t":332,"b":345,"v":0.6},{"s":"CK_4","t":400,"b":415,"v":0},{"s":"CK_4","t":440,"b":458,"v":0.7},
{"s":"CK_5","t":0,"b":5,"v":0.1},{"s":"CK_5","t":75,"b":85,"v":0.1},{"s":"CK_5","t":85,"b":105,"v":1.6},{"s":"CK_5","t":105,"b":138,"v":0.5},{"s":"CK_5","t":155,"b":175,"v":0.2},{"s":"CK_5","t":265,"b":290,"v":-0.1},{"s":"CK_5","t":322,"b":330,"v":1},{"s":"CK_5","t":330,"b":350,"v":2},{"s":"CK_5","t":350,"b":410,"v":2.5},{"s":"CK_5","t":410,"b":420,"v":0.7},{"s":"CK_5","t":420,"b":435,"v":1.4},
{"s":"LAA_1","t":10,"b":15,"v":1},{"s":"LAA_1","t":80,"b":84,"v":0.4},{"s":"LAA_1","t":138,"b":144,"v":1.5},{"s":"LAA_1","t":170,"b":176,"v":-0.1},{"s":"LAA_1","t":292,"b":296,"v":0.2},{"s":"LAA_1","t":410,"b":425,"v":2.5},{"s":"LAA_1","t":425,"b":470,"v":2},{"s":"LAA_1","t":470,"b":485,"v":2.5},{"s":"LAA_1","t":550,"b":553,"v":1.2},{"s":"LAA_1","t":592,"b":596,"v":0.6},
{"s":"LAA_2","t":462,"b":470,"v":0.5},{"s":"LAA_2","t":482,"b":497,"v":1.3},{"s":"LAA_2","t":512,"b":522,"v":0.4},{"s":"LAA_2","t":552,"b":577,"v":1},{"s":"LAA_2","t":587,"b":602,"v":1.7},{"s":"LAA_2","t":622,"b":637,"v":2.4},{"s":"LAA_2","t":642,"b":677,"v":1.1},{"s":"LAA_2","t":677,"b":687,"v":2.2},{"s":"LAA_2","t":687,"b":702,"v":0.9},
{"s":"LAA_3","t":467,"b":487,"v":0.3},{"s":"LAA_3","t":487,"b":510,"v":-0.2},{"s":"LAA_3","t":510,"b":520,"v":0.3},{"s":"LAA_3","t":537,"b":560,"v":0.5},{"s":"LAA_3","t":570,"b":578,"v":0.2},{"s":"LAA_3","t":582,"b":590,"v":1.5},{"s":"LAA_3","t":612,"b":630,"v":0.5},{"s":"LAA_3","t":640,"b":675,"v":1.9},{"s":"LAA_3","t":675,"b":690,"v":0.7},{"s":"LAA_3","t":688,"b":702,"v":2.3},
{"s":"LAA_4","t":467,"b":485,"v":-0.1},{"s":"LAA_4","t":485,"b":500,"v":1.7},{"s":"LAA_4","t":500,"b":525,"v":2.1},{"s":"LAA_4","t":525,"b":545,"v":2.4},{"s":"LAA_4","t":545,"b":578,"v":1.9},{"s":"LAA_4","t":602,"b":612,"v":0.3},{"s":"LAA_4","t":612,"b":620,"v":1.6},{"s":"LAA_4","t":620,"b":650,"v":0.7},{"s":"LAA_4","t":670,"b":680,"v":0.2},{"s":"LAA_4","t":690,"b":702,"v":0.3},
{"s":"LAA_5","t":462,"b":485,"v":0.7},{"s":"LAA_5","t":485,"b":520,"v":1},{"s":"LAA_5","t":520,"b":545,"v":0.4},{"s":"LAA_5","t":580,"b":600,"v":2},{"s":"LAA_5","t":600,"b":618,"v":2.5},{"s":"LAA_5","t":620,"b":650,"v":0.3},{"s":"LAA_5","t":650,"b":668,"v":1},{"s":"LAA_5","t":668,"b":680,"v":0.5}]},
   "mark":{"type":"rect","strokeWidth":0.4},
   "encoding":{
    "x":{"field":"s","type":"nominal","scale":{"domain":["CK_1","CK_2","CK_3","CK_4","CK_5","LAA_1","LAA_2","LAA_3","LAA_4","LAA_5"],"range":[63,257.3],"paddingInner":0,"paddingOuter":0},"axis":{"labelAngle":-90,"offset":-76.7,"ticks":false,"labelFontSize":7,"labelColor":"#555","labelPadding":4,"title":"mRNA","titleFont":"Liberation Serif","titleFontSize":17,"titleColor":"#000","titleX":153.3,"titleY":42.7}},
    "y":{"field":"t","type":"quantitative","scale":{"domain":[0,702],"range":[19.3,253.3],"nice":false,"zero":false},"axis":null},
    "y2":{"field":"b"},
    "stroke":{"field":"v","type":"quantitative","scale":{"domain":[-1.5,0.6,2.5],"range":["#009a3c","#000000","#ee1c25"],"interpolate":"rgb"},"legend":null},
    "color":{"field":"v","type":"quantitative","scale":{"domain":[-1.5,0.6,2.5],"range":["#009a3c","#000000","#ee1c25"],"interpolate":"rgb"},"legend":{"orient":"none","legendX":266.7,"legendY":19.3,"title":null,"gradientLength":85,"gradientThickness":10.5,"values":[-1.5,-0.5,0.5,1.5,2.5],"format":".2f","labelFontSize":7.5,"labelColor":"#333"}}}},
  {"data":{"values":[{"d":0,"e":55,"t":2,"b":50},{"d":0,"e":65,"t":50,"b":80},{"d":0,"e":60,"t":80,"b":125},{"d":0,"e":45,"t":125,"b":160},{"d":0,"e":55,"t":160,"b":182},{"d":0,"e":30,"t":182,"b":210},{"d":0,"e":15,"t":210,"b":240},{"d":0,"e":5,"t":240,"b":267},{"d":0,"e":55,"t":270,"b":325},{"d":0,"e":60,"t":325,"b":375},{"d":0,"e":50,"t":375,"b":408},{"d":0,"e":60,"t":410,"b":430},{"d":0,"e":75,"t":430,"b":470},{"d":0,"e":60,"t":470,"b":530},{"d":0,"e":70,"t":530,"b":600},{"d":0,"e":65,"t":600,"b":650},{"d":0,"e":60,"t":650,"b":702}]},"mark":{"type":"rect","fill":"#c6c6c6"},"encoding":{"x":{"field":"d","type":"quantitative","scale":{"domain":[0,99],"range":[63,30]},"axis":null},"x2":{"field":"e"},"y":{"field":"t","type":"quantitative"},"y2":{"field":"b"}}},
  {"data":{"values":[{"d":99,"e":99,"t":140,"b":560},{"d":92,"e":92,"t":30,"b":200},{"d":92,"e":99,"t":140,"b":140},{"d":85,"e":85,"t":5,"b":80},{"d":85,"e":92,"t":30,"b":30},{"d":80,"e":80,"t":120,"b":270},{"d":92,"e":80,"t":200,"b":200},{"d":75,"e":75,"t":270,"b":340},{"d":80,"e":60,"t":270,"b":270},{"d":90,"e":90,"t":440,"b":680},{"d":99,"e":90,"t":560,"b":560},{"d":85,"e":85,"t":390,"b":430},{"d":80,"e":60,"t":120,"b":120}]},"mark":{"type":"rule","stroke":"#c6c6c6","strokeWidth":0.6},"encoding":{"x":{"field":"d","type":"quantitative","scale":{"domain":[0,99],"range":[63,30]},"axis":null},"x2":{"field":"e"},"y":{"field":"t","type":"quantitative"},"y2":{"field":"b"}}}
 ]},
{"width":353,"height":325,"title":{"text":"E","offset":-28,"dx":4},
 "encoding":{
  "x":{"field":"x","type":"quantitative","scale":{"domain":[-1.706,1.592],"range":[33.3,265.3],"nice":false,"zero":false},"axis":{"values":[-1,0,1],"title":"log₂(Fold Change)","offset":-74,"labelFontSize":8,"tickSize":2.5,"labelPadding":1,"titleFontSize":9,"titlePadding":4}},
  "y":{"field":"y","type":"quantitative","scale":{"domain":[-0.146,3.218],"range":[251,36],"nice":false,"zero":false},"axis":{"values":[0,1,2,3],"title":"−log₁₀(p−value)","offset":-33.3,"labelFontSize":8,"tickSize":2.5,"labelPadding":1,"titleFontSize":9,"titlePadding":4}}},
 "layer":[
  {"data":{"values":[{"x":-1.5,"y":-0.146,"e":3.218},{"x":-0.5,"y":-0.146,"e":3.218},{"x":0,"y":-0.146,"e":3.218},{"x":0.5,"y":-0.146,"e":3.218},{"x":1.5,"y":-0.146,"e":3.218}]},"mark":{"type":"rule","stroke":"#ececec","strokeWidth":0.8},"encoding":{"y2":{"field":"e"}}},
  {"data":{"values":[{"x":-1.706,"y":0,"e":1.592},{"x":-1.706,"y":0.5,"e":1.592},{"x":-1.706,"y":1,"e":1.592},{"x":-1.706,"y":1.3,"e":1.592},{"x":-1.706,"y":1.5,"e":1.592},{"x":-1.706,"y":2,"e":1.592},{"x":-1.706,"y":2.5,"e":1.592},{"x":-1.706,"y":3,"e":1.592}]},"mark":{"type":"rule","stroke":"#e8e8e8","strokeWidth":0.8},"encoding":{"x2":{"field":"e"}}},
  {"data":{"values":[{"x":-1,"y":-0.146,"e":3.218},{"x":1,"y":-0.146,"e":3.218}]},"mark":{"type":"rule","stroke":"#bbbbbb","strokeWidth":1},"encoding":{"y2":{"field":"e"}}},
  {"data":{"values":[{"x":-0.91,"y":1.29},{"x":-0.78,"y":1.22},{"x":-0.82,"y":1.1},{"x":-0.68,"y":1.13},{"x":-0.62,"y":1.1},{"x":-0.67,"y":1.05},{"x":-0.6,"y":1.04},{"x":-0.55,"y":1.02},{"x":-0.5,"y":1.06},{"x":-0.77,"y":0.98},{"x":-0.72,"y":0.93},{"x":-0.68,"y":0.98},{"x":-0.7,"y":0.87},{"x":-0.62,"y":0.93},{"x":-0.61,"y":0.9},{"x":-0.4,"y":0.89},{"x":-0.62,"y":0.77},{"x":-0.6,"y":0.72},{"x":-0.55,"y":0.76},{"x":-0.48,"y":0.82},{"x":-0.47,"y":0.76},{"x":-0.45,"y":0.72},{"x":-0.6,"y":0.65},{"x":-0.55,"y":0.6},{"x":-0.5,"y":0.65},{"x":-0.4,"y":0.65},{"x":-0.37,"y":0.6},{"x":-0.52,"y":0.55},{"x":-0.45,"y":0.5},{"x":-0.4,"y":0.5},{"x":-0.32,"y":0.55},{"x":-0.35,"y":0.45},{"x":-0.25,"y":0.47},{"x":-0.42,"y":0.42},{"x":-0.38,"y":0.38},{"x":-0.33,"y":0.35},{"x":-0.28,"y":0.4},{"x":-0.23,"y":0.35},{"x":-0.3,"y":0.3},{"x":-0.25,"y":0.27},{"x":-0.2,"y":0.28},{"x":-0.17,"y":0.2},{"x":-0.14,"y":0.15},{"x":-0.1,"y":0.1},{"x":-0.07,"y":0.06},{"x":-0.04,"y":0.03},{"x":-0.2,"y":0.12},{"x":-0.15,"y":0.08},{"x":-1.3,"y":0},{"x":-0.22,"y":0},{"x":0.1,"y":0},{"x":0.14,"y":0},{"x":0.21,"y":0},{"x":0.26,"y":0},{"x":0.48,"y":0},{"x":0.7,"y":0},{"x":0.73,"y":0},{"x":0.8,"y":0},{"x":0.02,"y":0.02},{"x":0.05,"y":0.05},{"x":0.08,"y":0.09},{"x":0.12,"y":0.14},{"x":0.16,"y":0.2},{"x":0.2,"y":0.25},{"x":0.24,"y":0.3},{"x":0.28,"y":0.36},{"x":0.32,"y":0.42},{"x":0.36,"y":0.5},{"x":0.4,"y":0.58},{"x":0.44,"y":0.68},{"x":0.47,"y":0.75},{"x":0.2,"y":0.62},{"x":0.12,"y":0.2},{"x":0.18,"y":0.13},{"x":0.24,"y":0.18},{"x":0.3,"y":0.25},{"x":0.35,"y":0.3},{"x":0.4,"y":0.35},{"x":0.45,"y":0.4},{"x":0.5,"y":0.45},{"x":0.55,"y":0.55},{"x":0.6,"y":0.6},{"x":0.64,"y":0.75},{"x":0.58,"y":0.7},{"x":0.52,"y":0.82},{"x":0.6,"y":0.87},{"x":0.56,"y":0.92},{"x":0.62,"y":1},{"x":0.72,"y":1.04},{"x":0.78,"y":1.02},{"x":0.72,"y":0.92},{"x":0.82,"y":1.12},{"x":0.52,"y":1.13},{"x":0.46,"y":1.08},{"x":0.39,"y":1.1},{"x":0.37,"y":1.03},{"x":0.43,"y":0.85},{"x":0.3,"y":0.5},{"x":0.34,"y":0.45},{"x":0.26,"y":0.12},{"x":0.32,"y":0.3},{"x":0.38,"y":0.42},{"x":0.22,"y":0.4},{"x":0.17,"y":0.3}]},"mark":{"type":"circle","color":"#000","size":4,"opacity":1}},
  {"data":{"values":[{"x":-1.57,"y":3.06,"s":"Down"},{"x":-1.42,"y":2.57,"s":"Down"},{"x":-1.34,"y":2.3,"s":"Down"},{"x":-1.21,"y":2.4,"s":"Down"},{"x":-1.06,"y":2.25,"s":"Down"},{"x":-1.1,"y":1.9,"s":"Down"},{"x":-1.34,"y":1.88,"s":"Down"},{"x":-1.45,"y":1.78,"s":"Down"},{"x":-1.31,"y":1.58,"s":"Down"},{"x":-1.29,"y":1.51,"s":"Down"},{"x":-1.27,"y":1.44,"s":"Down"},{"x":-1.26,"y":1.39,"s":"Down"},{"x":-1.25,"y":1.35,"s":"Down"},{"x":-1.23,"y":1.33,"s":"Down"},{"x":-1.22,"y":1.33,"s":"Down"},{"x":-1.38,"y":1.31,"s":"Down"},{"x":-1.33,"y":1.31,"s":"Down"},{"x":1.06,"y":1.3,"s":"Up"},{"x":1.26,"y":1.61,"s":"Up"},{"x":1.43,"y":1.63,"s":"Up"},{"x":1.28,"y":1.4,"s":"Up"},{"x":1.32,"y":1.41,"s":"Up"}]},"mark":{"type":"circle","size":5,"opacity":1},"encoding":{"color":{"field":"s","type":"nominal","scale":{"domain":["Down","Not","Up"],"range":["#22b422","#000000","#ff2030"]},"legend":{"orient":"none","legendX":220,"legendY":40,"title":"Significant","padding":3,"fillColor":"white","titleFontSize":9,"titleFontWeight":"normal","titleColor":"#333","labelFontSize":8,"labelColor":"#333","symbolSize":8,"symbolOffset":3,"labelOffset":9,"rowPadding":6,"titlePadding":7}}}},
  {"data":{"values":[{"x":-1.706,"y":-0.146,"e":1.592,"f":3.218}]},"mark":{"type":"rect","fill":null,"stroke":"#999","strokeWidth":1},"encoding":{"x2":{"field":"e"},"y2":{"field":"f"}}},
  {"data":{"values":[{"x":-0.26,"y":-1.017,"label":"miRNA"}]},"mark":{"type":"text","font":"Liberation Serif","fontSize":17,"color":"#000"},"encoding":{"text":{"field":"label"}}}
 ]},
{"width":353,"height":325,"title":{"text":"F","offset":-28,"dx":10},
 "resolve":{"scale":{"x":"independent","y":"independent"}},
 "layer":[
  {"data":{"values":[
{"g":"hsa-miR-1273h-3p","CK_1":-1.3,"CK_2":0.1,"CK_3":0.6,"CK_4":-0.6,"CK_5":-0.2,"LAA_1":0.2,"LAA_2":0.7,"LAA_3":1.9,"LAA_4":-0.2,"LAA_5":-1.2},
{"g":"hsa-miR-27b-5p","CK_1":-0.7,"CK_2":-0.7,"CK_3":0.1,"CK_4":-1.4,"CK_5":-0.6,"LAA_1":1.2,"LAA_2":0.1,"LAA_3":2,"LAA_4":-0.2,"LAA_5":0.2},
{"g":"hsa-miR-204-3p","CK_1":-0.9,"CK_2":-0.9,"CK_3":-0.9,"CK_4":-0.7,"CK_5":0.6,"LAA_1":1.7,"LAA_2":0.7,"LAA_3":-0.1,"LAA_4":0.9,"LAA_5":-0.7},
{"g":"hsa-miR-328-3p","CK_1":-1.1,"CK_2":-1.2,"CK_3":1,"CK_4":-0.6,"CK_5":0.6,"LAA_1":1.9,"LAA_2":-0.6,"LAA_3":-0.2,"LAA_4":-0.2,"LAA_5":-0.2},
{"g":"hsa-miR-142-3p","CK_1":-0.7,"CK_2":1.2,"CK_3":1.7,"CK_4":0.6,"CK_5":-1,"LAA_1":-1.1,"LAA_2":-0.3,"LAA_3":0.5,"LAA_4":-0.2,"LAA_5":-0.7},
{"g":"hsa-miR-21-5p","CK_1":-0.5,"CK_2":1,"CK_3":1.1,"CK_4":0.9,"CK_5":-1.5,"LAA_1":-0.4,"LAA_2":-0.3,"LAA_3":0.5,"LAA_4":-0.2,"LAA_5":-0.2},
{"g":"hsa-miR-1296-5p","CK_1":0.3,"CK_2":0.7,"CK_3":1.9,"CK_4":0,"CK_5":0.6,"LAA_1":-1.1,"LAA_2":-0.4,"LAA_3":-1,"LAA_4":-0.7,"LAA_5":-1},
{"g":"hsa-miR-145-3p","CK_1":-0.4,"CK_2":0.8,"CK_3":1.9,"CK_4":0,"CK_5":0.6,"LAA_1":-1.2,"LAA_2":0,"LAA_3":-0.4,"LAA_4":-0.5,"LAA_5":-1.3},
{"g":"hsa-miR-374a-5p","CK_1":-0.6,"CK_2":1,"CK_3":1.2,"CK_4":0.6,"CK_5":1.2,"LAA_1":-1.3,"LAA_2":-0.7,"LAA_3":-0.4,"LAA_4":-0.6,"LAA_5":-1},
{"g":"hsa-miR-1277-5p","CK_1":-0.6,"CK_2":0.6,"CK_3":1.5,"CK_4":0.1,"CK_5":1.5,"LAA_1":-0.9,"LAA_2":-0.7,"LAA_3":-0.9,"LAA_4":-0.9,"LAA_5":-0.9},
{"g":"hsa-miR-32-5p","CK_1":-0.6,"CK_2":0.6,"CK_3":2,"CK_4":0.3,"CK_5":0.6,"LAA_1":-1.1,"LAA_2":-0.9,"LAA_3":-0.9,"LAA_4":-0.5,"LAA_5":-0.8},
{"g":"hsa-miR-1908-5p","CK_1":-0.9,"CK_2":0.2,"CK_3":0.8,"CK_4":-0.8,"CK_5":2.2,"LAA_1":-0.1,"LAA_2":-0.2,"LAA_3":0.2,"LAA_4":-0.4,"LAA_5":-1.4},
{"g":"hsa-miR-342-3p","CK_1":-1.2,"CK_2":0.2,"CK_3":1.2,"CK_4":-1.2,"CK_5":1.7,"LAA_1":-0.1,"LAA_2":0.6,"LAA_3":-1,"LAA_4":-0.1,"LAA_5":-0.7},
{"g":"hsa-miR-1538","CK_1":0.6,"CK_2":-0.7,"CK_3":-0.7,"CK_4":1.6,"CK_5":1.9,"LAA_1":-0.5,"LAA_2":-0.5,"LAA_3":-0.5,"LAA_4":-0.5,"LAA_5":-0.5},
{"g":"hsa-miR-3127-3p","CK_1":0.7,"CK_2":-0.7,"CK_3":-0.7,"CK_4":1.1,"CK_5":1.9,"LAA_1":-0.5,"LAA_2":-0.5,"LAA_3":-0.5,"LAA_4":-0.5,"LAA_5":-0.5},
{"g":"hsa-miR-136-5p","CK_1":0,"CK_2":-1,"CK_3":0.5,"CK_4":2.1,"CK_5":1.1,"LAA_1":-0.9,"LAA_2":-0.9,"LAA_3":-0.3,"LAA_4":-0.6,"LAA_5":-0.6},
{"g":"hsa-miR-493-3p","CK_1":0,"CK_2":-1.1,"CK_3":0.5,"CK_4":2,"CK_5":1.2,"LAA_1":-0.7,"LAA_2":-0.7,"LAA_3":-0.6,"LAA_4":-0.3,"LAA_5":-1},
{"g":"hsa-miR-411-5p","CK_1":-0.9,"CK_2":-0.2,"CK_3":1.8,"CK_4":0.6,"CK_5":1.4,"LAA_1":-0.8,"LAA_2":-0.3,"LAA_3":-0.9,"LAA_4":-0.4,"LAA_5":-0.8},
{"g":"hsa-miR-494-3p","CK_1":-1,"CK_2":0.2,"CK_3":1.3,"CK_4":1.5,"CK_5":0.9,"LAA_1":-0.8,"LAA_2":-0.5,"LAA_3":-0.4,"LAA_4":-0.7,"LAA_5":-0.9},
{"g":"hsa-miR-369-3p","CK_1":-0.8,"CK_2":-0.5,"CK_3":1.6,"CK_4":1.5,"CK_5":1.2,"LAA_1":-0.8,"LAA_2":-0.7,"LAA_3":-0.3,"LAA_4":-0.6,"LAA_5":-0.6},
{"g":"hsa-miR-379-5p","CK_1":-0.8,"CK_2":-0.7,"CK_3":1.3,"CK_4":1.1,"CK_5":1.6,"LAA_1":-1,"LAA_2":-0.8,"LAA_3":-0.1,"LAA_4":-0.4,"LAA_5":-0.7},
{"g":"hsa-miR-495-3p","CK_1":-0.8,"CK_2":-0.7,"CK_3":1.3,"CK_4":1.6,"CK_5":1.3,"LAA_1":-1,"LAA_2":-0.8,"LAA_3":-0.1,"LAA_4":-0.4,"LAA_5":-1},
{"g":"hsa-miR-379-3p","CK_1":-0.3,"CK_2":-0.5,"CK_3":1.9,"CK_4":1.6,"CK_5":0.1,"LAA_1":-0.9,"LAA_2":-0.9,"LAA_3":-0.8,"LAA_4":-0.5,"LAA_5":-0.2},
{"g":"hsa-miR-381-3p","CK_1":-0.6,"CK_2":-0.7,"CK_3":1.5,"CK_4":2.2,"CK_5":-0.6,"LAA_1":-0.8,"LAA_2":-0.8,"LAA_3":0,"LAA_4":-0.1,"LAA_5":-0.5}]},
   "transform":[{"fold":["CK_1","CK_2","CK_3","CK_4","CK_5","LAA_1","LAA_2","LAA_3","LAA_4","LAA_5"],"as":["s","v"]}],
   "mark":{"type":"rect","strokeWidth":0.4},
   "encoding":{
    "x":{"field":"s","type":"nominal","scale":{"domain":["CK_1","CK_2","CK_3","CK_4","CK_5","LAA_1","LAA_2","LAA_3","LAA_4","LAA_5"],"range":[64.7,262],"paddingInner":0,"paddingOuter":0},"axis":{"labelAngle":-90,"offset":-57.3,"ticks":false,"labelFontSize":8.5,"labelColor":"#333","labelPadding":4,"title":"miRNA","titleFont":"Liberation Serif","titleFontSize":17,"titleColor":"#000","titleX":163,"titleY":42.3}},
    "y":{"field":"g","type":"nominal","sort":null,"scale":{"range":[34.3,267.7],"paddingInner":0,"paddingOuter":0},"axis":{"orient":"right","offset":-91,"ticks":false,"title":null,"labelFontSize":5.8,"labelColor":"#333","labelPadding":3}},
    "stroke":{"field":"v","type":"quantitative","scale":{"domain":[-1.5,0.6,2.5],"range":["#009a3c","#000000","#ee1c25"],"interpolate":"rgb"},"legend":null},
    "color":{"field":"v","type":"quantitative","scale":{"domain":[-1.5,0.6,2.5],"range":["#009a3c","#000000","#ee1c25"],"interpolate":"rgb"},"legend":{"orient":"none","legendX":322,"legendY":37.7,"title":null,"gradientLength":86,"gradientThickness":10.5,"values":[-1.5,-0.5,0.5,1.5,2.5],"format":".2f","labelFontSize":6.5,"labelOffset":2,"labelColor":"#333"}}}},
  {"data":{"values":[
{"d":0,"e":67,"t":0.5,"b":0.5},{"d":0,"e":67,"t":1.5,"b":1.5},{"d":67,"e":67,"t":0.5,"b":1.5},{"d":0,"e":67,"t":2.5,"b":2.5},{"d":0,"e":67,"t":3.5,"b":3.5},{"d":67,"e":67,"t":2.5,"b":3.5},{"d":67,"e":74,"t":1,"b":1},{"d":67,"e":74,"t":3,"b":3},{"d":74,"e":74,"t":1,"b":3},
{"d":0,"e":67,"t":4.5,"b":4.5},{"d":0,"e":67,"t":5.5,"b":5.5},{"d":67,"e":67,"t":4.5,"b":5.5},{"d":0,"e":42,"t":6.5,"b":6.5},{"d":0,"e":42,"t":7.5,"b":7.5},{"d":42,"e":42,"t":6.5,"b":7.5},{"d":0,"e":32,"t":8.5,"b":8.5},{"d":0,"e":20,"t":9.5,"b":9.5},{"d":0,"e":20,"t":10.5,"b":10.5},{"d":20,"e":20,"t":9.5,"b":10.5},{"d":20,"e":32,"t":10,"b":10},{"d":32,"e":32,"t":8.5,"b":10},{"d":42,"e":47,"t":7,"b":7},{"d":32,"e":47,"t":9.2,"b":9.2},{"d":47,"e":47,"t":7,"b":9.2},
{"d":0,"e":47,"t":11.5,"b":11.5},{"d":0,"e":47,"t":12.5,"b":12.5},{"d":47,"e":47,"t":11.5,"b":12.5},{"d":47,"e":60,"t":8.1,"b":8.1},{"d":47,"e":60,"t":12,"b":12},{"d":60,"e":60,"t":8.1,"b":12},{"d":67,"e":70,"t":5,"b":5},{"d":60,"e":70,"t":10,"b":10},{"d":70,"e":70,"t":5,"b":10},{"d":74,"e":89,"t":2,"b":2},{"d":70,"e":89,"t":9,"b":9},{"d":89,"e":89,"t":2,"b":9},
{"d":0,"e":38,"t":13.5,"b":13.5},{"d":0,"e":38,"t":14.5,"b":14.5},{"d":38,"e":38,"t":13.5,"b":14.5},{"d":0,"e":38,"t":15.5,"b":15.5},{"d":0,"e":38,"t":16.5,"b":16.5},{"d":38,"e":38,"t":15.5,"b":16.5},{"d":38,"e":46,"t":14,"b":14},{"d":38,"e":46,"t":16,"b":16},{"d":46,"e":46,"t":14,"b":16},
{"d":0,"e":10,"t":20.5,"b":20.5},{"d":0,"e":10,"t":21.5,"b":21.5},{"d":10,"e":10,"t":20.5,"b":21.5},{"d":0,"e":15,"t":19.5,"b":19.5},{"d":10,"e":15,"t":21,"b":21},{"d":15,"e":15,"t":19.5,"b":21},{"d":0,"e":22,"t":18.5,"b":18.5},{"d":15,"e":22,"t":20.2,"b":20.2},{"d":22,"e":22,"t":18.5,"b":20.2},{"d":0,"e":35,"t":17.5,"b":17.5},{"d":22,"e":35,"t":19.3,"b":19.3},{"d":35,"e":35,"t":17.5,"b":19.3},
{"d":0,"e":38,"t":22.5,"b":22.5},{"d":0,"e":38,"t":23.5,"b":23.5},{"d":38,"e":38,"t":22.5,"b":23.5},{"d":35,"e":46,"t":18.4,"b":18.4},{"d":38,"e":46,"t":23,"b":23},{"d":46,"e":46,"t":18.4,"b":23},{"d":46,"e":66,"t":15,"b":15},{"d":46,"e":66,"t":20.7,"b":20.7},{"d":66,"e":66,"t":15,"b":20.7},{"d":89,"e":92,"t":5.5,"b":5.5},{"d":66,"e":92,"t":17.9,"b":17.9},{"d":92,"e":92,"t":5.5,"b":17.9}]},
   "mark":{"type":"rule","stroke":"#b5b5b5","strokeWidth":0.6},
   "encoding":{"x":{"field":"d","type":"quantitative","scale":{"domain":[0,92],"range":[64.7,34]},"axis":null},"x2":{"field":"e"},"y":{"field":"t","type":"quantitative","scale":{"domain":[0,24],"range":[34.3,267.7],"nice":false,"zero":false},"axis":null},"y2":{"field":"b"}}}
 ]},
{"width":353,"height":298,"title":{"text":"G","offset":-24,"dx":4},
 "data":{"values":[
{"c":"chr1","up-lncRNA":30,"down-lncRNA":88,"up-mRNA":19,"down-mRNA":33,"up-miRNA":0,"down-miRNA":0},
{"c":"chr2","up-lncRNA":20,"down-lncRNA":65,"up-mRNA":11,"down-mRNA":18,"up-miRNA":0,"down-miRNA":1},
{"c":"chr3","up-lncRNA":23,"down-lncRNA":50,"up-mRNA":16,"down-mRNA":21,"up-miRNA":0,"down-miRNA":0},
{"c":"chr4","up-lncRNA":9,"down-lncRNA":34,"up-mRNA":12,"down-mRNA":15,"up-miRNA":0,"down-miRNA":0},
{"c":"chr5","up-lncRNA":9,"down-lncRNA":45,"up-mRNA":19,"down-mRNA":17,"up-miRNA":0,"down-miRNA":1},
{"c":"chr6","up-lncRNA":11,"down-lncRNA":56,"up-mRNA":12,"down-mRNA":15,"up-miRNA":0,"down-miRNA":0},
{"c":"chr7","up-lncRNA":9,"down-lncRNA":41,"up-mRNA":12,"down-mRNA":10,"up-miRNA":0,"down-miRNA":0},
{"c":"chr8","up-lncRNA":10,"down-lncRNA":32,"up-mRNA":9,"down-mRNA":10,"up-miRNA":0,"down-miRNA":0},
{"c":"chr9","up-lncRNA":10,"down-lncRNA":34,"up-mRNA":10,"down-mRNA":15,"up-miRNA":2,"down-miRNA":1},
{"c":"chr10","up-lncRNA":11,"down-lncRNA":42,"up-mRNA":10,"down-mRNA":14,"up-miRNA":0,"down-miRNA":1},
{"c":"chr11","up-lncRNA":14,"down-lncRNA":43,"up-mRNA":12,"down-mRNA":23,"up-miRNA":0,"down-miRNA":1},
{"c":"chr12","up-lncRNA":15,"down-lncRNA":44,"up-mRNA":26,"down-mRNA":28,"up-miRNA":0,"down-miRNA":0},
{"c":"chr13","up-lncRNA":3,"down-lncRNA":17,"up-mRNA":5,"down-mRNA":7,"up-miRNA":0,"down-miRNA":0},
{"c":"chr14","up-lncRNA":12,"down-lncRNA":27,"up-mRNA":2,"down-mRNA":9,"up-miRNA":1,"down-miRNA":9},
{"c":"chr15","up-lncRNA":3,"down-lncRNA":12,"up-mRNA":7,"down-mRNA":8,"up-miRNA":0,"down-miRNA":0},
{"c":"chr16","up-lncRNA":1,"down-lncRNA":17,"up-mRNA":8,"down-mRNA":9,"up-miRNA":1,"down-miRNA":1},
{"c":"chr17","up-lncRNA":3,"down-lncRNA":20,"up-mRNA":18,"down-mRNA":22,"up-miRNA":0,"down-miRNA":2},
{"c":"chr18","up-lncRNA":6,"down-lncRNA":21,"up-mRNA":6,"down-mRNA":6,"up-miRNA":0,"down-miRNA":0},
{"c":"chr19","up-lncRNA":5,"down-lncRNA":28,"up-mRNA":9,"down-mRNA":21,"up-miRNA":0,"down-miRNA":0},
{"c":"chr20","up-lncRNA":2,"down-lncRNA":21,"up-mRNA":13,"down-mRNA":7,"up-miRNA":0,"down-miRNA":0},
{"c":"chr21","up-lncRNA":2,"down-lncRNA":6,"up-mRNA":4,"down-mRNA":1,"up-miRNA":0,"down-miRNA":0},
{"c":"chr22","up-lncRNA":1,"down-lncRNA":8,"up-mRNA":2,"down-mRNA":5,"up-miRNA":0,"down-miRNA":0},
{"c":"chrX","up-lncRNA":8,"down-lncRNA":29,"up-mRNA":13,"down-mRNA":11,"up-miRNA":0,"down-miRNA":2},
{"c":"chrY","up-lncRNA":1,"down-lncRNA":2,"up-mRNA":0,"down-mRNA":0,"up-miRNA":0,"down-miRNA":0}]},
 "transform":[{"fold":["up-lncRNA","down-lncRNA","up-mRNA","down-mRNA","up-miRNA","down-miRNA"],"as":["s","n"]},{"lookup":"s","from":{"data":{"values":[{"s":"up-lncRNA","o":1},{"s":"down-lncRNA","o":2},{"s":"up-mRNA","o":3},{"s":"down-mRNA","o":4},{"s":"up-miRNA","o":5},{"s":"down-miRNA","o":6}]},"key":"s","fields":["o"]}},{"filter":"datum.n>0"}],
 "encoding":{
  "x":{"field":"c","type":"nominal","sort":null,"scale":{"domain":["chr1","chr2","chr3","chr4","chr5","chr6","chr7","chr8","chr9","chr10","chr11","chr12","chr13","chr14","chr15","chr16","chr17","chr18","chr19","chr20","chr21","chr22","chrX","chrY"],"range":[15.7,303.7],"paddingInner":0.6,"paddingOuter":0.3},"axis":{"labelAngle":90,"offset":-26.3,"title":null,"domain":true,"labelFontSize":5.5,"labelColor":"#333","domainColor":"#ccc","tickColor":"#ccc","tickSize":2,"labelPadding":2}},
  "y":{"field":"n","type":"quantitative","stack":"zero","scale":{"domain":[0,180],"range":[271.7,51],"nice":false},"axis":{"values":[0,20,40,60,80,100,120,140,160,180],"offset":-15,"title":null,"domain":true,"labelFontSize":5.5,"labelColor":"#333","domainColor":"#ccc","tickColor":"#ccc","tickSize":2,"labelPadding":1}},
  "order":{"field":"o","type":"quantitative"}},
 "layer":[
  {"mark":{"type":"bar"},"encoding":{"color":{"field":"s","type":"nominal","scale":{"domain":["down-miRNA","up-miRNA","down-mRNA","up-mRNA","down-lncRNA","up-lncRNA"],"range":["#ee8a33","#2aa5bd","#7d5a9e","#86a844","#bd3d3a","#2a70a8"]},"legend":{"orient":"none","legendX":312,"legendY":139,"title":null,"symbolType":"square","symbolSize":12,"labelFontSize":5.8,"labelColor":"#333","rowPadding":4.3,"padding":0,"labelOffset":3}}}},
  {"mark":{"type":"text","fontSize":5.5,"color":"#222"},"encoding":{"y":{"field":"n","type":"quantitative","stack":"zero","bandPosition":0.5},"text":{"field":"n","type":"quantitative"}}}
 ]},
{"width":353,"height":298,"title":{"text":"H","offset":-23,"dx":10},
 "resolve":{"scale":{"color":"independent"}},
 "encoding":{"x":{"field":"c","type":"nominal","scale":{"domain":["1","2","3","4","5","6","7","8","9","10","11","12","13","14","15","16","17","18","19","20","21","22","X","Y"],"range":[20.3,308.3],"paddingInner":0.58,"paddingOuter":0.29},"axis":{"labelAngle":0,"offset":-7,"title":null,"ticks":false,"labelFontSize":5,"labelColor":"#444","labelPadding":1}},
  "y":{"field":"a","type":"quantitative","scale":{"domain":[0,288],"range":[288.3,0.3],"nice":false,"zero":false},"axis":null}},
 "layer":[
  {"data":{"values":[{"c":"1","a":0,"b":126},{"c":"1","a":128,"b":253},{"c":"2","a":0,"b":151},{"c":"2","a":153,"b":246},{"c":"3","a":0,"b":106},{"c":"3","a":108,"b":201},{"c":"4","a":0,"b":141},{"c":"4","a":143,"b":193},{"c":"5","a":0,"b":135},{"c":"5","a":137,"b":184},{"c":"6","a":0,"b":112},{"c":"6","a":114,"b":173},{"c":"7","a":0,"b":99},{"c":"7","a":101,"b":162},{"c":"8","a":0,"b":99},{"c":"8","a":101,"b":147},{"c":"9","a":0,"b":94},{"c":"9","a":96,"b":140},{"c":"10","a":0,"b":93},{"c":"10","a":95,"b":136},{"c":"11","a":0,"b":83},{"c":"11","a":85,"b":137},{"c":"12","a":0,"b":97},{"c":"12","a":99,"b":135},{"c":"13","a":0,"b":97},{"c":"13","a":99,"b":116},{"c":"14","a":0,"b":91},{"c":"14","a":93,"b":108},{"c":"15","a":0,"b":84},{"c":"15","a":86,"b":103},{"c":"16","a":0,"b":54},{"c":"16","a":56,"b":91},{"c":"17","a":0,"b":57},{"c":"17","a":59,"b":84},{"c":"18","a":0,"b":61},{"c":"18","a":63,"b":81},{"c":"19","a":0,"b":32},{"c":"19","a":34,"b":59},{"c":"20","a":0,"b":34},{"c":"20","a":36,"b":65},{"c":"21","a":0,"b":33},{"c":"21","a":35,"b":47},{"c":"22","a":0,"b":36},{"c":"22","a":38,"b":51},{"c":"X","a":0,"b":96},{"c":"X","a":98,"b":158},{"c":"Y","a":0,"b":58}]},"mark":{"type":"rect","fill":"#4a8fc0","stroke":"#b9c9bd","strokeWidth":0.6,"cornerRadius":2},"encoding":{"y2":{"field":"b"}}},
  {"data":{"values":[{"c":"1","a":107,"b":126,"v":0},{"c":"1","a":92,"b":98,"v":0.5},{"c":"1","a":85,"b":88,"v":0.42},{"c":"1","a":20,"b":21,"v":0.5},{"c":"1","a":70,"b":72,"v":0.42},{"c":"1","a":50,"b":52,"v":0.42},{"c":"1","a":140,"b":142,"v":0.42},{"c":"1","a":165,"b":167,"v":0.4},{"c":"1","a":185,"b":187,"v":0.42},{"c":"1","a":205,"b":207,"v":0.42},{"c":"1","a":225,"b":227,"v":0.45},{"c":"1","a":245,"b":252,"v":0.45},{"c":"1","a":30,"b":33,"v":0.4},{"c":"1","a":10,"b":12,"v":0.42},
{"c":"2","a":112,"b":114,"v":0.5},{"c":"2","a":22,"b":23,"v":0.5},{"c":"2","a":60,"b":62,"v":0.4},{"c":"2","a":90,"b":92,"v":0.4},{"c":"2","a":130,"b":132,"v":0.42},{"c":"2","a":175,"b":177,"v":0.42},{"c":"2","a":210,"b":212,"v":0.42},{"c":"2","a":235,"b":240,"v":0.42},{"c":"2","a":40,"b":42,"v":0.42},{"c":"2","a":8,"b":10,"v":0.42},
{"c":"3","a":150,"b":152,"v":0.5},{"c":"3","a":104,"b":106,"v":0.45},{"c":"3","a":80,"b":82,"v":0.42},{"c":"3","a":50,"b":52,"v":0.42},{"c":"3","a":20,"b":22,"v":0.4},{"c":"3","a":125,"b":127,"v":0.42},{"c":"3","a":175,"b":177,"v":0.42},{"c":"3","a":190,"b":192,"v":0.42},
{"c":"4","a":185,"b":187,"v":0.5},{"c":"4","a":142,"b":143,"v":0.6},{"c":"4","a":100,"b":102,"v":0.42},{"c":"4","a":60,"b":62,"v":0.42},{"c":"4","a":30,"b":32,"v":0.42},{"c":"4","a":120,"b":122,"v":0.42},{"c":"4","a":160,"b":162,"v":0.42},
{"c":"5","a":160,"b":162,"v":0.5},{"c":"5","a":133,"b":135,"v":0.42},{"c":"5","a":40,"b":41,"v":0.8},{"c":"5","a":37,"b":39,"v":0.5},{"c":"5","a":90,"b":92,"v":0.42},{"c":"5","a":60,"b":62,"v":0.42},{"c":"5","a":20,"b":22,"v":0.42},{"c":"5","a":115,"b":117,"v":0.42},
{"c":"6","a":140,"b":145,"v":0.75},{"c":"6","a":135,"b":138,"v":0.5},{"c":"6","a":146,"b":150,"v":0.5},{"c":"6","a":114,"b":115,"v":0.6},{"c":"6","a":150,"b":155,"v":0.42},{"c":"6","a":80,"b":82,"v":0.42},{"c":"6","a":50,"b":52,"v":0.42},{"c":"6","a":20,"b":24,"v":0.42},
{"c":"7","a":16,"b":18,"v":0.8},{"c":"7","a":13,"b":15,"v":0.5},{"c":"7","a":101,"b":103,"v":0.5},{"c":"7","a":60,"b":62,"v":0.42},{"c":"7","a":40,"b":42,"v":0.42},{"c":"7","a":130,"b":132,"v":0.42},{"c":"7","a":145,"b":147,"v":0.42},
{"c":"8","a":135,"b":137,"v":0.42},{"c":"8","a":110,"b":112,"v":0.42},{"c":"8","a":85,"b":87,"v":0.42},{"c":"8","a":40,"b":42,"v":0.42},{"c":"8","a":10,"b":12,"v":0.42},{"c":"8","a":60,"b":62,"v":0.42},
{"c":"9","a":100,"b":110,"v":0.42},{"c":"9","a":125,"b":127,"v":0.42},{"c":"9","a":78,"b":94,"v":0},{"c":"9","a":60,"b":62,"v":0.5},{"c":"9","a":30,"b":32,"v":0.42},{"c":"9","a":10,"b":12,"v":0.42},
{"c":"10","a":120,"b":122,"v":0.42},{"c":"10","a":100,"b":102,"v":0.42},{"c":"10","a":60,"b":62,"v":0.42},{"c":"10","a":30,"b":32,"v":0.42},{"c":"10","a":10,"b":12,"v":0.42},
{"c":"11","a":128,"b":135,"v":0.5},{"c":"11","a":115,"b":120,"v":0.45},{"c":"11","a":100,"b":103,"v":0.42},{"c":"11","a":70,"b":72,"v":0.8},{"c":"11","a":65,"b":70,"v":0.5},{"c":"11","a":72,"b":82,"v":0.5},{"c":"11","a":50,"b":52,"v":0.42},{"c":"11","a":30,"b":32,"v":0.5},{"c":"11","a":10,"b":12,"v":0.5},
{"c":"12","a":125,"b":128,"v":0.5},{"c":"12","a":85,"b":90,"v":0.5},{"c":"12","a":78,"b":83,"v":0.55},{"c":"12","a":70,"b":78,"v":0.45},{"c":"12","a":60,"b":62,"v":0.42},{"c":"12","a":30,"b":32,"v":0.42},{"c":"12","a":110,"b":112,"v":0.42},
{"c":"13","a":99,"b":116,"v":0},{"c":"13","a":70,"b":72,"v":0.42},{"c":"13","a":40,"b":42,"v":0.42},{"c":"13","a":15,"b":17,"v":0.42},
{"c":"14","a":93,"b":108,"v":0},{"c":"14","a":85,"b":87,"v":0.9},{"c":"14","a":88,"b":90,"v":0.5},{"c":"14","a":6,"b":7,"v":0.8},{"c":"14","a":4,"b":6,"v":0.5},{"c":"14","a":40,"b":42,"v":0.42},{"c":"14","a":20,"b":22,"v":0.42},{"c":"14","a":65,"b":67,"v":0.42},
{"c":"15","a":86,"b":103,"v":0},{"c":"15","a":75,"b":77,"v":0.7},{"c":"15","a":70,"b":72,"v":0.5},{"c":"15","a":60,"b":62,"v":0.42},{"c":"15","a":30,"b":32,"v":0.42},{"c":"15","a":10,"b":12,"v":0.42},
{"c":"16","a":35,"b":52,"v":0},{"c":"16","a":86,"b":90,"v":0.7},{"c":"16","a":60,"b":64,"v":0.45},{"c":"16","a":56,"b":59,"v":0.6},{"c":"16","a":20,"b":22,"v":0.5},{"c":"16","a":10,"b":12,"v":0.42},{"c":"16","a":70,"b":72,"v":0.42},{"c":"16","a":5,"b":6,"v":0.8},
{"c":"17","a":75,"b":82,"v":0.5},{"c":"17","a":70,"b":72,"v":0.8},{"c":"17","a":60,"b":66,"v":0.5},{"c":"17","a":30,"b":40,"v":0.5},{"c":"17","a":15,"b":17,"v":0.42},{"c":"17","a":5,"b":7,"v":0.42},{"c":"17","a":50,"b":52,"v":0.42},
{"c":"18","a":63,"b":80,"v":0.2},{"c":"18","a":30,"b":32,"v":0.42},{"c":"18","a":10,"b":12,"v":0.42},{"c":"18","a":45,"b":47,"v":0.42},
{"c":"19","a":35,"b":58,"v":0.5},{"c":"19","a":5,"b":28,"v":0.5},{"c":"19","a":2,"b":4,"v":0.75},{"c":"19","a":12,"b":14,"v":0.6},{"c":"19","a":45,"b":47,"v":0.55},
{"c":"20","a":40,"b":62,"v":0.3},{"c":"20","a":20,"b":22,"v":0.42},{"c":"20","a":10,"b":12,"v":0.42},{"c":"20","a":50,"b":52,"v":0.42},
{"c":"21","a":36,"b":46,"v":0},{"c":"21","a":20,"b":22,"v":0.42},{"c":"21","a":5,"b":7,"v":0.42},
{"c":"22","a":38,"b":50,"v":0},{"c":"22","a":27,"b":29,"v":1},{"c":"22","a":10,"b":25,"v":0.4},{"c":"22","a":5,"b":7,"v":0.42},
{"c":"X","a":110,"b":115,"v":0.42},{"c":"X","a":120,"b":122,"v":0.5},{"c":"X","a":140,"b":142,"v":0.42},{"c":"X","a":60,"b":62,"v":0.42},{"c":"X","a":30,"b":32,"v":0.42},{"c":"X","a":10,"b":12,"v":0.42},{"c":"X","a":85,"b":87,"v":0.42},
{"c":"Y","a":1,"b":30,"v":0},{"c":"Y","a":30,"b":37,"v":0.3},{"c":"Y","a":38,"b":40,"v":0.5},{"c":"Y","a":42,"b":45,"v":0.5}]},"mark":{"type":"rect"},"encoding":{"y2":{"field":"b"},"color":{"field":"v","type":"quantitative","scale":{"domain":[0,0.35,0.5,0.75,1],"range":["#1f6fb5","#6fa6c6","#f6f2b4","#f9b27a","#f5333f"],"interpolate":"rgb"},"legend":{"orient":"none","direction":"horizontal","legendX":261,"legendY":52,"title":null,"gradientLength":34,"gradientThickness":7,"values":[0.15,0.85],"labelExpr":"datum.value<0.5?'Low':'High'","labelFontSize":5.5,"labelColor":"#333"}}}},
  {"data":{"values":[{"c":"1","a":255,"s":"down mRNA"},{"c":"1","a":252,"s":"up mRNA"},{"c":"1","a":249,"s":"up LncRNA"},{"c":"1","a":125,"s":"down mRNA"},{"c":"1","a":108,"s":"down LncRNA"},{"c":"1","a":105,"s":"down mRNA"},{"c":"1","a":23,"s":"down LncRNA"},{"c":"2","a":195,"s":"down mRNA"},{"c":"2","a":180,"s":"down LncRNA"},{"c":"2","a":27,"s":"up mRNA"},{"c":"3","a":131,"s":"down mRNA"},{"c":"3","a":103,"s":"up LncRNA"},{"c":"3","a":59,"s":"down mRNA"},{"c":"3","a":50,"s":"down LncRNA"},{"c":"4","a":86,"s":"up LncRNA"},{"c":"5","a":50,"s":"down mRNA"},{"c":"5","a":41,"s":"down LncRNA"},{"c":"5","a":32,"s":"down miRNA"},{"c":"5","a":19,"s":"down LncRNA"},{"c":"6","a":143,"s":"up mRNA"},{"c":"6","a":141,"s":"down mRNA"},{"c":"6","a":62,"s":"down LncRNA"},{"c":"6","a":38,"s":"down mRNA"},{"c":"7","a":73,"s":"down LncRNA"},{"c":"8","a":72,"s":"down mRNA"},{"c":"9","a":43,"s":"up miRNA"},{"c":"9","a":29,"s":"down miRNA"},{"c":"10","a":118,"s":"down mRNA"},{"c":"10","a":108,"s":"up mRNA"},{"c":"10","a":71,"s":"down miRNA"},{"c":"10","a":65,"s":"down LncRNA"},{"c":"10","a":33,"s":"down mRNA"},{"c":"11","a":132,"s":"down LncRNA"},{"c":"11","a":103,"s":"down mRNA"},{"c":"11","a":70,"s":"up LncRNA"},{"c":"12","a":89,"s":"down mRNA"},{"c":"12","a":85,"s":"down LncRNA"},{"c":"12","a":62,"s":"up miRNA"},{"c":"12","a":12,"s":"down mRNA"},{"c":"14","a":37,"s":"up LncRNA"},{"c":"14","a":14,"s":"up miRNA"},{"c":"14","a":12,"s":"down miRNA"},{"c":"14","a":9,"s":"up miRNA"},{"c":"14","a":7,"s":"down miRNA"},{"c":"14","a":4,"s":"down miRNA"},{"c":"14","a":1,"s":"down miRNA"},{"c":"14","a":-2,"s":"down miRNA"},{"c":"16","a":67,"s":"up miRNA"},{"c":"17","a":25,"s":"down mRNA"},{"c":"17","a":21,"s":"down miRNA"},{"c":"19","a":37,"s":"down mRNA"},{"c":"22","a":30,"s":"down LncRNA"},{"c":"X","a":79,"s":"down mRNA"},{"c":"Y","a":0,"s":"down LncRNA"}]},"mark":{"type":"point","filled":true,"size":8,"opacity":1,"xOffset":4.5},"encoding":{"color":{"field":"s","type":"nominal","scale":{"domain":["down mRNA","up mRNA","down LncRNA","up LncRNA","down miRNA","up miRNA"],"range":["#1a4aa8","#f01c28","#1a3a98","#f01c28","#1a4aa8","#f01c28"]},"legend":{"orient":"none","legendX":261,"legendY":68,"title":null,"labelFontSize":5.5,"labelColor":"#333","symbolSize":9,"rowPadding":1.3,"padding":0,"labelOffset":3}},"shape":{"field":"s","type":"nominal","scale":{"domain":["down mRNA","up mRNA","down LncRNA","up LncRNA","down miRNA","up miRNA"],"range":["square","square","circle","circle","triangle-up","triangle-up"]}}}}
 ]}
]
}
